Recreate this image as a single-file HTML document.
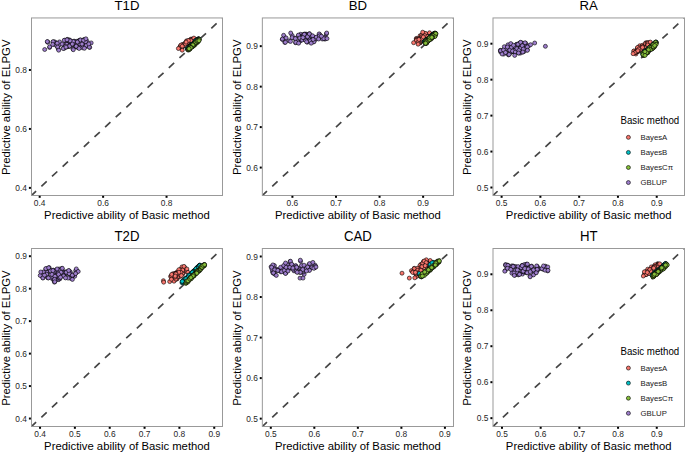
<!DOCTYPE html><html><head><meta charset="utf-8"><style>html,body{margin:0;padding:0;background:#fff;}svg{display:block;}text{font-family:"Liberation Sans",sans-serif;}circle{stroke:#000;stroke-width:0.6px;}.a{fill:#F8766D;}.b{fill:#00BFC4;}.c{fill:#86BF3A;}.d{fill:#9D7DCB;}</style></head><body>
<svg width="685" height="454" viewBox="0 0 685 454">
<rect x="0" y="0" width="685" height="454" fill="#fff"/>
<defs>
<clipPath id="cp00"><rect x="31.5" y="17.95" width="191.00" height="177.55"/></clipPath>
<clipPath id="cp01"><rect x="262.35" y="17.95" width="191.15" height="177.55"/></clipPath>
<clipPath id="cp02"><rect x="493.0" y="17.95" width="191.50" height="177.55"/></clipPath>
<clipPath id="cp10"><rect x="31.5" y="248.5" width="191.00" height="178.00"/></clipPath>
<clipPath id="cp11"><rect x="262.35" y="248.5" width="191.15" height="178.00"/></clipPath>
<clipPath id="cp12"><rect x="493.0" y="248.5" width="191.50" height="178.00"/></clipPath>
</defs>
<g clip-path="url(#cp00)">
<line x1="31.5" y1="195.5" x2="222.5" y2="17.95" stroke="#454545" stroke-width="1.7" stroke-dasharray="7.25 7.25" stroke-dashoffset="1.0"/>
<circle class="d" cx="87.0" cy="41.2" r="2"/>
<circle class="d" cx="49.6" cy="47.4" r="2"/>
<circle class="d" cx="67.5" cy="46.6" r="2"/>
<circle class="d" cx="68.5" cy="42.4" r="2"/>
<circle class="d" cx="66.1" cy="41.3" r="2"/>
<circle class="d" cx="55.7" cy="42.7" r="2"/>
<circle class="d" cx="79.5" cy="40.6" r="2"/>
<circle class="d" cx="83.4" cy="40.1" r="2"/>
<circle class="d" cx="82.3" cy="43.7" r="2"/>
<circle class="d" cx="75.4" cy="46.5" r="2"/>
<circle class="d" cx="67.5" cy="40.4" r="2"/>
<circle class="d" cx="68.6" cy="44.7" r="2"/>
<circle class="d" cx="64.7" cy="45.2" r="2"/>
<circle class="d" cx="47.5" cy="41.8" r="2"/>
<circle class="d" cx="53.8" cy="44.5" r="2"/>
<circle class="d" cx="77.9" cy="41.7" r="2"/>
<circle class="d" cx="79.2" cy="42.3" r="2"/>
<circle class="d" cx="85.5" cy="43.8" r="2"/>
<circle class="d" cx="68.6" cy="46.1" r="2"/>
<circle class="d" cx="80.7" cy="41.1" r="2"/>
<circle class="d" cx="67.6" cy="39.4" r="2"/>
<circle class="d" cx="76.0" cy="45.9" r="2"/>
<circle class="d" cx="83.8" cy="39.8" r="2"/>
<circle class="d" cx="84.1" cy="40.8" r="2"/>
<circle class="d" cx="79.8" cy="41.6" r="2"/>
<circle class="d" cx="68.8" cy="44.7" r="2"/>
<circle class="d" cx="54.5" cy="41.8" r="2"/>
<circle class="d" cx="80.2" cy="40.0" r="2"/>
<circle class="d" cx="65.2" cy="46.7" r="2"/>
<circle class="d" cx="69.7" cy="40.0" r="2"/>
<circle class="d" cx="77.9" cy="44.1" r="2"/>
<circle class="d" cx="66.8" cy="46.8" r="2"/>
<circle class="d" cx="89.7" cy="47.4" r="2"/>
<circle class="d" cx="72.2" cy="44.6" r="2"/>
<circle class="d" cx="85.0" cy="46.8" r="2"/>
<circle class="d" cx="56.7" cy="43.3" r="2"/>
<circle class="d" cx="56.7" cy="45.9" r="2"/>
<circle class="d" cx="74.2" cy="41.2" r="2"/>
<circle class="d" cx="83.7" cy="41.1" r="2"/>
<circle class="d" cx="74.5" cy="42.8" r="2"/>
<circle class="d" cx="76.5" cy="45.3" r="2"/>
<circle class="d" cx="77.7" cy="47.3" r="2"/>
<circle class="d" cx="66.8" cy="40.4" r="2"/>
<circle class="d" cx="78.5" cy="40.9" r="2"/>
<circle class="d" cx="63.7" cy="48.1" r="2"/>
<circle class="d" cx="53.0" cy="42.0" r="2"/>
<circle class="d" cx="59.5" cy="44.7" r="2"/>
<circle class="d" cx="77.3" cy="47.0" r="2"/>
<circle class="d" cx="69.7" cy="46.3" r="2"/>
<circle class="d" cx="79.8" cy="47.5" r="2"/>
<circle class="d" cx="76.5" cy="41.4" r="2"/>
<circle class="d" cx="77.5" cy="47.0" r="2"/>
<circle class="d" cx="81.6" cy="44.1" r="2"/>
<circle class="d" cx="47.8" cy="42.3" r="2"/>
<circle class="d" cx="87.2" cy="45.8" r="2"/>
<circle class="d" cx="82.3" cy="44.2" r="2"/>
<circle class="d" cx="66.8" cy="44.3" r="2"/>
<circle class="d" cx="79.6" cy="43.8" r="2"/>
<circle class="d" cx="84.4" cy="39.9" r="2"/>
<circle class="d" cx="77.9" cy="42.1" r="2"/>
<circle class="d" cx="73.6" cy="41.4" r="2"/>
<circle class="d" cx="58.2" cy="48.7" r="2"/>
<circle class="d" cx="64.5" cy="48.1" r="2"/>
<circle class="d" cx="73.0" cy="49.0" r="2"/>
<circle class="d" cx="66.9" cy="39.9" r="2"/>
<circle class="d" cx="59.5" cy="41.9" r="2"/>
<circle class="d" cx="85.6" cy="41.9" r="2"/>
<circle class="d" cx="69.5" cy="41.3" r="2"/>
<circle class="d" cx="82.8" cy="47.8" r="2"/>
<circle class="d" cx="64.9" cy="40.2" r="2"/>
<circle class="d" cx="44.7" cy="49.5" r="2"/>
<circle class="d" cx="47.3" cy="41.6" r="2"/>
<circle class="d" cx="49.7" cy="46.8" r="2"/>
<circle class="d" cx="53.1" cy="41.7" r="2"/>
<circle class="d" cx="52.7" cy="44.4" r="2"/>
<circle class="d" cx="57.2" cy="43.2" r="2"/>
<circle class="d" cx="57.7" cy="47.1" r="2"/>
<circle class="d" cx="58.7" cy="50.2" r="2"/>
<circle class="d" cx="62.1" cy="44.1" r="2"/>
<circle class="d" cx="64.2" cy="40.3" r="2"/>
<circle class="d" cx="65.2" cy="46.3" r="2"/>
<circle class="d" cx="63.3" cy="48.5" r="2"/>
<circle class="d" cx="69.1" cy="40.3" r="2"/>
<circle class="d" cx="69.1" cy="45.8" r="2"/>
<circle class="d" cx="73.3" cy="41.5" r="2"/>
<circle class="d" cx="77.4" cy="42.0" r="2"/>
<circle class="d" cx="80.5" cy="40.0" r="2"/>
<circle class="d" cx="83.5" cy="40.3" r="2"/>
<circle class="d" cx="85.9" cy="38.8" r="2"/>
<circle class="d" cx="86.4" cy="45.4" r="2"/>
<circle class="d" cx="82.0" cy="44.1" r="2"/>
<circle class="d" cx="76.2" cy="46.3" r="2"/>
<circle class="d" cx="73.3" cy="49.7" r="2"/>
<circle class="d" cx="79.1" cy="48.5" r="2"/>
<circle class="d" cx="69.6" cy="46.1" r="2"/>
<circle class="d" cx="70.1" cy="40.8" r="2"/>
<circle class="d" cx="91.2" cy="42.9" r="2"/>
<circle class="d" cx="89.3" cy="47.1" r="2"/>
<circle class="d" cx="88.8" cy="43.9" r="2"/>
<circle class="d" cx="84.4" cy="48.3" r="2"/>
<circle class="d" cx="72.3" cy="44.1" r="2"/>
<circle class="d" cx="67.0" cy="39.8" r="2"/>
<circle class="d" cx="66.0" cy="47.1" r="2"/>
<circle class="a" cx="184.7" cy="45.5" r="2"/>
<circle class="a" cx="181.6" cy="48.1" r="2"/>
<circle class="a" cx="186.8" cy="42.6" r="2"/>
<circle class="a" cx="186.7" cy="43.3" r="2"/>
<circle class="a" cx="180.3" cy="47.2" r="2"/>
<circle class="a" cx="181.3" cy="47.1" r="2"/>
<circle class="a" cx="185.7" cy="44.0" r="2"/>
<circle class="a" cx="182.6" cy="45.4" r="2"/>
<circle class="a" cx="188.9" cy="43.0" r="2"/>
<circle class="a" cx="184.9" cy="43.8" r="2"/>
<circle class="a" cx="193.8" cy="40.3" r="2"/>
<circle class="a" cx="184.1" cy="45.6" r="2"/>
<circle class="a" cx="182.2" cy="47.0" r="2"/>
<circle class="a" cx="190.9" cy="40.7" r="2"/>
<circle class="a" cx="181.6" cy="45.1" r="2"/>
<circle class="a" cx="184.4" cy="43.8" r="2"/>
<circle class="a" cx="187.3" cy="43.0" r="2"/>
<circle class="a" cx="182.8" cy="46.0" r="2"/>
<circle class="a" cx="188.4" cy="40.8" r="2"/>
<circle class="a" cx="187.8" cy="42.7" r="2"/>
<circle class="a" cx="185.6" cy="43.1" r="2"/>
<circle class="a" cx="190.1" cy="42.7" r="2"/>
<circle class="a" cx="182.5" cy="44.6" r="2"/>
<circle class="a" cx="191.1" cy="39.2" r="2"/>
<circle class="a" cx="189.1" cy="40.5" r="2"/>
<circle class="a" cx="185.5" cy="43.9" r="2"/>
<circle class="a" cx="186.0" cy="42.8" r="2"/>
<circle class="a" cx="180.0" cy="46.8" r="2"/>
<circle class="a" cx="186.6" cy="41.3" r="2"/>
<circle class="a" cx="191.0" cy="39.2" r="2"/>
<circle class="a" cx="188.6" cy="43.4" r="2"/>
<circle class="a" cx="186.5" cy="40.9" r="2"/>
<circle class="a" cx="192.6" cy="39.4" r="2"/>
<circle class="a" cx="186.1" cy="43.2" r="2"/>
<circle class="a" cx="188.9" cy="41.0" r="2"/>
<circle class="a" cx="189.5" cy="43.3" r="2"/>
<circle class="a" cx="183.7" cy="45.1" r="2"/>
<circle class="a" cx="185.0" cy="44.1" r="2"/>
<circle class="a" cx="185.9" cy="43.4" r="2"/>
<circle class="a" cx="182.3" cy="46.4" r="2"/>
<circle class="a" cx="190.1" cy="40.8" r="2"/>
<circle class="a" cx="181.7" cy="46.6" r="2"/>
<circle class="a" cx="191.9" cy="40.5" r="2"/>
<circle class="a" cx="180.3" cy="46.1" r="2"/>
<circle class="a" cx="191.7" cy="39.9" r="2"/>
<circle class="a" cx="191.0" cy="40.6" r="2"/>
<circle class="a" cx="185.0" cy="43.4" r="2"/>
<circle class="a" cx="185.8" cy="46.0" r="2"/>
<circle class="a" cx="181.0" cy="45.0" r="2"/>
<circle class="a" cx="182.3" cy="46.2" r="2"/>
<circle class="a" cx="186.7" cy="43.9" r="2"/>
<circle class="a" cx="187.7" cy="42.3" r="2"/>
<circle class="a" cx="185.5" cy="44.0" r="2"/>
<circle class="a" cx="188.4" cy="40.6" r="2"/>
<circle class="a" cx="186.1" cy="42.1" r="2"/>
<circle class="a" cx="178.4" cy="48.5" r="2"/>
<circle class="a" cx="182.2" cy="50.2" r="2"/>
<circle class="a" cx="193.9" cy="38.1" r="2"/>
<circle class="b" cx="187.4" cy="48.1" r="2"/>
<circle class="b" cx="197.6" cy="39.7" r="2"/>
<circle class="b" cx="191.5" cy="44.8" r="2"/>
<circle class="b" cx="194.5" cy="42.4" r="2"/>
<circle class="b" cx="187.9" cy="48.4" r="2"/>
<circle class="b" cx="189.0" cy="47.3" r="2"/>
<circle class="b" cx="191.0" cy="45.4" r="2"/>
<circle class="b" cx="188.8" cy="47.3" r="2"/>
<circle class="b" cx="188.2" cy="47.8" r="2"/>
<circle class="b" cx="197.3" cy="39.9" r="2"/>
<circle class="b" cx="194.3" cy="42.7" r="2"/>
<circle class="b" cx="191.2" cy="45.5" r="2"/>
<circle class="b" cx="191.5" cy="45.5" r="2"/>
<circle class="b" cx="198.9" cy="39.0" r="2"/>
<circle class="b" cx="192.4" cy="44.0" r="2"/>
<circle class="b" cx="188.2" cy="47.9" r="2"/>
<circle class="b" cx="191.0" cy="45.3" r="2"/>
<circle class="b" cx="189.3" cy="47.7" r="2"/>
<circle class="b" cx="187.5" cy="48.9" r="2"/>
<circle class="b" cx="188.6" cy="47.3" r="2"/>
<circle class="b" cx="193.6" cy="43.6" r="2"/>
<circle class="b" cx="198.5" cy="38.9" r="2"/>
<circle class="b" cx="197.0" cy="39.9" r="2"/>
<circle class="b" cx="191.1" cy="45.0" r="2"/>
<circle class="b" cx="189.0" cy="47.2" r="2"/>
<circle class="b" cx="195.9" cy="40.6" r="2"/>
<circle class="b" cx="190.9" cy="45.6" r="2"/>
<circle class="b" cx="198.9" cy="39.2" r="2"/>
<circle class="b" cx="197.1" cy="40.3" r="2"/>
<circle class="b" cx="195.3" cy="40.9" r="2"/>
<circle class="b" cx="189.5" cy="46.4" r="2"/>
<circle class="b" cx="187.3" cy="48.6" r="2"/>
<circle class="b" cx="187.3" cy="48.6" r="2"/>
<circle class="b" cx="195.3" cy="41.9" r="2"/>
<circle class="b" cx="198.7" cy="38.9" r="2"/>
<circle class="b" cx="198.1" cy="39.0" r="2"/>
<circle class="b" cx="189.8" cy="46.7" r="2"/>
<circle class="b" cx="189.4" cy="47.0" r="2"/>
<circle class="b" cx="197.8" cy="39.9" r="2"/>
<circle class="b" cx="196.5" cy="39.9" r="2"/>
<circle class="b" cx="196.4" cy="40.7" r="2"/>
<circle class="b" cx="187.8" cy="47.8" r="2"/>
<circle class="b" cx="195.8" cy="40.4" r="2"/>
<circle class="b" cx="195.7" cy="41.0" r="2"/>
<circle class="b" cx="196.2" cy="40.8" r="2"/>
<circle class="c" cx="192.0" cy="46.7" r="2"/>
<circle class="c" cx="193.0" cy="46.2" r="2"/>
<circle class="c" cx="189.6" cy="47.9" r="2"/>
<circle class="c" cx="189.7" cy="49.0" r="2"/>
<circle class="c" cx="197.8" cy="42.2" r="2"/>
<circle class="c" cx="189.9" cy="48.8" r="2"/>
<circle class="c" cx="191.7" cy="46.0" r="2"/>
<circle class="c" cx="187.9" cy="49.6" r="2"/>
<circle class="c" cx="198.9" cy="39.5" r="2"/>
<circle class="c" cx="198.4" cy="39.8" r="2"/>
<circle class="c" cx="193.3" cy="45.8" r="2"/>
<circle class="c" cx="189.8" cy="47.1" r="2"/>
<circle class="c" cx="190.7" cy="47.1" r="2"/>
<circle class="c" cx="194.9" cy="44.0" r="2"/>
<circle class="c" cx="190.7" cy="47.0" r="2"/>
<circle class="c" cx="198.5" cy="40.5" r="2"/>
<circle class="c" cx="191.5" cy="45.7" r="2"/>
<circle class="c" cx="198.5" cy="40.6" r="2"/>
<circle class="c" cx="193.1" cy="45.9" r="2"/>
<circle class="c" cx="193.8" cy="44.1" r="2"/>
<circle class="c" cx="194.3" cy="44.8" r="2"/>
<circle class="c" cx="190.0" cy="48.0" r="2"/>
<circle class="c" cx="187.9" cy="49.8" r="2"/>
<circle class="c" cx="193.1" cy="44.7" r="2"/>
<circle class="c" cx="196.0" cy="42.0" r="2"/>
<circle class="c" cx="193.8" cy="44.3" r="2"/>
<circle class="c" cx="194.3" cy="44.1" r="2"/>
<circle class="c" cx="194.2" cy="43.9" r="2"/>
<circle class="c" cx="190.6" cy="47.1" r="2"/>
<circle class="c" cx="194.3" cy="45.2" r="2"/>
<circle class="c" cx="194.4" cy="44.1" r="2"/>
<circle class="c" cx="194.6" cy="43.0" r="2"/>
<circle class="c" cx="195.9" cy="42.6" r="2"/>
<circle class="c" cx="192.7" cy="44.7" r="2"/>
<circle class="c" cx="198.7" cy="40.0" r="2"/>
<circle class="c" cx="196.5" cy="43.2" r="2"/>
<circle class="c" cx="190.3" cy="46.5" r="2"/>
<circle class="c" cx="194.9" cy="44.7" r="2"/>
<circle class="c" cx="189.2" cy="48.1" r="2"/>
<circle class="c" cx="189.1" cy="48.4" r="2"/>
<circle class="c" cx="190.7" cy="47.4" r="2"/>
<circle class="c" cx="188.4" cy="48.7" r="2"/>
<circle class="c" cx="197.8" cy="40.0" r="2"/>
<circle class="c" cx="189.5" cy="48.1" r="2"/>
<circle class="c" cx="189.0" cy="47.8" r="2"/>
<circle class="c" cx="198.4" cy="41.0" r="2"/>
<circle class="c" cx="198.9" cy="39.9" r="2"/>
<circle class="c" cx="197.6" cy="41.3" r="2"/>
<circle class="c" cx="189.3" cy="47.7" r="2"/>
<circle class="c" cx="191.9" cy="46.5" r="2"/>
<circle class="c" cx="189.9" cy="47.5" r="2"/>
<circle class="c" cx="188.5" cy="50.1" r="2"/>
<circle class="c" cx="194.2" cy="44.0" r="2"/>
<circle class="c" cx="191.7" cy="46.4" r="2"/>
<circle class="c" cx="195.0" cy="43.2" r="2"/>
<circle class="c" cx="199.3" cy="39.6" r="2"/>
<circle class="c" cx="197.2" cy="41.9" r="2"/>
<circle class="c" cx="190.9" cy="47.0" r="2"/>
<circle class="c" cx="188.3" cy="49.4" r="2"/>
<circle class="c" cx="189.1" cy="48.2" r="2"/>
<circle class="c" cx="193.3" cy="46.0" r="2"/>
<circle class="c" cx="190.5" cy="46.8" r="2"/>
<circle class="c" cx="189.9" cy="48.7" r="2"/>
<circle class="c" cx="195.8" cy="42.3" r="2"/>
<circle class="c" cx="189.3" cy="49.4" r="2"/>
<circle class="c" cx="193.0" cy="45.6" r="2"/>
<circle class="c" cx="189.1" cy="49.5" r="2"/>
<circle class="c" cx="197.0" cy="41.3" r="2"/>
<circle class="c" cx="188.9" cy="49.0" r="2"/>
<circle class="c" cx="197.8" cy="40.8" r="2"/>
<circle class="c" cx="192.9" cy="44.9" r="2"/>
<circle class="c" cx="199.0" cy="40.7" r="2"/>
<circle class="c" cx="191.2" cy="47.4" r="2"/>
<circle class="c" cx="190.9" cy="47.7" r="2"/>
<circle class="c" cx="189.1" cy="48.7" r="2"/>
</g>
<rect x="31.5" y="17.95" width="191.00" height="177.55" fill="none" stroke="#999" stroke-width="1"/>
<rect x="38.68" y="195.80" width="2" height="2" fill="#000"/>
<rect x="28.90" y="186.89" width="2" height="2" fill="#000"/>
<text transform="translate(39.68,206.45) scale(1,1.04)" font-size="8.4" fill="#262626" text-anchor="middle">0.4</text>
<text transform="translate(26.95,191.09) scale(1,1.04)" font-size="8.4" fill="#262626" text-anchor="end">0.4</text>
<rect x="102.12" y="195.80" width="2" height="2" fill="#000"/>
<rect x="28.90" y="127.93" width="2" height="2" fill="#000"/>
<text transform="translate(103.12,206.45) scale(1,1.04)" font-size="8.4" fill="#262626" text-anchor="middle">0.6</text>
<text transform="translate(26.95,132.13) scale(1,1.04)" font-size="8.4" fill="#262626" text-anchor="end">0.6</text>
<rect x="165.55" y="195.80" width="2" height="2" fill="#000"/>
<rect x="28.90" y="68.96" width="2" height="2" fill="#000"/>
<text transform="translate(166.55,206.45) scale(1,1.04)" font-size="8.4" fill="#262626" text-anchor="middle">0.8</text>
<text transform="translate(26.95,73.16) scale(1,1.04)" font-size="8.4" fill="#262626" text-anchor="end">0.8</text>
<text transform="translate(127.00,9.85) scale(1,1.0)" font-size="13.2" fill="#000" text-anchor="middle">T1D</text>
<text transform="translate(127.00,219.05) scale(1,1.03)" font-size="11.3" fill="#000" text-anchor="middle">Predictive ability of Basic method</text>
<text transform="translate(9.80,107.32) rotate(-90) scale(1,1.03)" font-size="11.35" fill="#000" text-anchor="middle">Predictive ability of ELPGV</text>
<g clip-path="url(#cp01)">
<line x1="262.35" y1="195.5" x2="453.5" y2="17.95" stroke="#454545" stroke-width="1.7" stroke-dasharray="7.25 7.25" stroke-dashoffset="1.0"/>
<circle class="d" cx="301.7" cy="38.6" r="2"/>
<circle class="d" cx="303.4" cy="35.1" r="2"/>
<circle class="d" cx="315.7" cy="37.9" r="2"/>
<circle class="d" cx="289.1" cy="40.8" r="2"/>
<circle class="d" cx="305.0" cy="34.8" r="2"/>
<circle class="d" cx="311.2" cy="36.9" r="2"/>
<circle class="d" cx="295.5" cy="42.7" r="2"/>
<circle class="d" cx="303.0" cy="38.7" r="2"/>
<circle class="d" cx="324.0" cy="38.8" r="2"/>
<circle class="d" cx="307.1" cy="38.3" r="2"/>
<circle class="d" cx="304.6" cy="39.0" r="2"/>
<circle class="d" cx="299.6" cy="36.4" r="2"/>
<circle class="d" cx="305.7" cy="35.0" r="2"/>
<circle class="d" cx="295.1" cy="38.2" r="2"/>
<circle class="d" cx="324.3" cy="38.3" r="2"/>
<circle class="d" cx="319.8" cy="35.4" r="2"/>
<circle class="d" cx="285.4" cy="38.0" r="2"/>
<circle class="d" cx="326.3" cy="34.0" r="2"/>
<circle class="d" cx="306.4" cy="39.5" r="2"/>
<circle class="d" cx="306.6" cy="34.2" r="2"/>
<circle class="d" cx="309.4" cy="33.7" r="2"/>
<circle class="d" cx="305.6" cy="36.8" r="2"/>
<circle class="d" cx="314.4" cy="40.5" r="2"/>
<circle class="d" cx="314.4" cy="38.8" r="2"/>
<circle class="d" cx="305.3" cy="34.1" r="2"/>
<circle class="d" cx="319.5" cy="34.4" r="2"/>
<circle class="d" cx="300.6" cy="34.3" r="2"/>
<circle class="d" cx="294.2" cy="38.3" r="2"/>
<circle class="d" cx="306.2" cy="37.6" r="2"/>
<circle class="d" cx="299.1" cy="35.9" r="2"/>
<circle class="d" cx="325.2" cy="37.2" r="2"/>
<circle class="d" cx="284.8" cy="42.4" r="2"/>
<circle class="d" cx="312.2" cy="36.2" r="2"/>
<circle class="d" cx="325.1" cy="39.1" r="2"/>
<circle class="d" cx="300.1" cy="41.0" r="2"/>
<circle class="d" cx="310.2" cy="39.1" r="2"/>
<circle class="d" cx="316.4" cy="37.7" r="2"/>
<circle class="d" cx="305.8" cy="35.8" r="2"/>
<circle class="d" cx="298.8" cy="35.5" r="2"/>
<circle class="d" cx="309.9" cy="37.4" r="2"/>
<circle class="d" cx="303.8" cy="34.3" r="2"/>
<circle class="d" cx="307.3" cy="42.2" r="2"/>
<circle class="d" cx="307.1" cy="35.7" r="2"/>
<circle class="d" cx="304.7" cy="34.7" r="2"/>
<circle class="d" cx="310.4" cy="38.0" r="2"/>
<circle class="d" cx="306.2" cy="35.7" r="2"/>
<circle class="d" cx="302.8" cy="36.2" r="2"/>
<circle class="d" cx="282.3" cy="39.4" r="2"/>
<circle class="d" cx="309.0" cy="40.9" r="2"/>
<circle class="d" cx="303.6" cy="37.0" r="2"/>
<circle class="d" cx="304.5" cy="34.3" r="2"/>
<circle class="d" cx="321.3" cy="36.6" r="2"/>
<circle class="d" cx="303.3" cy="36.2" r="2"/>
<circle class="d" cx="297.9" cy="41.8" r="2"/>
<circle class="d" cx="313.3" cy="41.8" r="2"/>
<circle class="d" cx="319.0" cy="35.9" r="2"/>
<circle class="d" cx="309.8" cy="39.1" r="2"/>
<circle class="d" cx="324.7" cy="38.1" r="2"/>
<circle class="d" cx="302.1" cy="39.5" r="2"/>
<circle class="d" cx="303.6" cy="38.1" r="2"/>
<circle class="d" cx="321.6" cy="37.4" r="2"/>
<circle class="d" cx="312.3" cy="39.0" r="2"/>
<circle class="d" cx="305.8" cy="35.3" r="2"/>
<circle class="d" cx="303.7" cy="39.1" r="2"/>
<circle class="d" cx="300.7" cy="37.7" r="2"/>
<circle class="d" cx="311.3" cy="40.7" r="2"/>
<circle class="d" cx="307.2" cy="36.7" r="2"/>
<circle class="d" cx="301.5" cy="39.8" r="2"/>
<circle class="d" cx="292.1" cy="35.4" r="2"/>
<circle class="d" cx="315.8" cy="38.9" r="2"/>
<circle class="d" cx="283.6" cy="35.3" r="2"/>
<circle class="d" cx="282.4" cy="39.0" r="2"/>
<circle class="d" cx="286.1" cy="37.9" r="2"/>
<circle class="d" cx="285.4" cy="42.3" r="2"/>
<circle class="d" cx="290.7" cy="33.0" r="2"/>
<circle class="d" cx="292.1" cy="37.6" r="2"/>
<circle class="d" cx="290.5" cy="41.4" r="2"/>
<circle class="d" cx="295.4" cy="38.6" r="2"/>
<circle class="d" cx="295.8" cy="42.3" r="2"/>
<circle class="d" cx="298.4" cy="35.1" r="2"/>
<circle class="d" cx="298.6" cy="43.2" r="2"/>
<circle class="d" cx="299.8" cy="38.1" r="2"/>
<circle class="d" cx="302.1" cy="40.0" r="2"/>
<circle class="d" cx="304.6" cy="34.4" r="2"/>
<circle class="d" cx="305.3" cy="40.0" r="2"/>
<circle class="d" cx="303.9" cy="37.6" r="2"/>
<circle class="d" cx="304.3" cy="34.4" r="2"/>
<circle class="d" cx="307.5" cy="36.7" r="2"/>
<circle class="d" cx="309.4" cy="33.9" r="2"/>
<circle class="d" cx="312.6" cy="35.8" r="2"/>
<circle class="d" cx="314.0" cy="41.8" r="2"/>
<circle class="d" cx="310.3" cy="40.9" r="2"/>
<circle class="d" cx="306.6" cy="41.8" r="2"/>
<circle class="d" cx="302.9" cy="37.6" r="2"/>
<circle class="d" cx="316.3" cy="37.2" r="2"/>
<circle class="d" cx="319.1" cy="33.9" r="2"/>
<circle class="d" cx="319.6" cy="35.8" r="2"/>
<circle class="d" cx="318.6" cy="39.0" r="2"/>
<circle class="d" cx="322.3" cy="39.0" r="2"/>
<circle class="d" cx="323.7" cy="38.6" r="2"/>
<circle class="d" cx="327.0" cy="38.6" r="2"/>
<circle class="d" cx="326.7" cy="33.0" r="2"/>
<circle class="d" cx="321.4" cy="36.2" r="2"/>
<circle class="d" cx="313.1" cy="39.5" r="2"/>
<circle class="d" cx="311.2" cy="43.2" r="2"/>
<circle class="a" cx="422.1" cy="38.3" r="2"/>
<circle class="a" cx="418.1" cy="40.2" r="2"/>
<circle class="a" cx="426.9" cy="36.6" r="2"/>
<circle class="a" cx="416.3" cy="38.4" r="2"/>
<circle class="a" cx="426.3" cy="34.9" r="2"/>
<circle class="a" cx="420.5" cy="42.3" r="2"/>
<circle class="a" cx="427.9" cy="36.9" r="2"/>
<circle class="a" cx="421.4" cy="39.8" r="2"/>
<circle class="a" cx="424.3" cy="33.4" r="2"/>
<circle class="a" cx="417.3" cy="38.7" r="2"/>
<circle class="a" cx="424.6" cy="36.2" r="2"/>
<circle class="a" cx="426.0" cy="36.9" r="2"/>
<circle class="a" cx="425.1" cy="36.1" r="2"/>
<circle class="a" cx="421.4" cy="39.5" r="2"/>
<circle class="a" cx="421.6" cy="37.4" r="2"/>
<circle class="a" cx="419.7" cy="40.2" r="2"/>
<circle class="a" cx="424.1" cy="36.7" r="2"/>
<circle class="a" cx="422.2" cy="37.3" r="2"/>
<circle class="a" cx="426.0" cy="38.6" r="2"/>
<circle class="a" cx="418.5" cy="41.3" r="2"/>
<circle class="a" cx="421.4" cy="35.6" r="2"/>
<circle class="a" cx="419.5" cy="38.8" r="2"/>
<circle class="a" cx="420.1" cy="37.4" r="2"/>
<circle class="a" cx="422.8" cy="36.2" r="2"/>
<circle class="a" cx="421.1" cy="38.1" r="2"/>
<circle class="a" cx="423.0" cy="37.3" r="2"/>
<circle class="a" cx="421.8" cy="38.3" r="2"/>
<circle class="a" cx="426.0" cy="38.2" r="2"/>
<circle class="a" cx="421.8" cy="38.9" r="2"/>
<circle class="a" cx="419.0" cy="42.1" r="2"/>
<circle class="a" cx="417.8" cy="40.1" r="2"/>
<circle class="a" cx="421.4" cy="38.6" r="2"/>
<circle class="a" cx="423.2" cy="39.7" r="2"/>
<circle class="a" cx="418.1" cy="41.4" r="2"/>
<circle class="a" cx="424.2" cy="36.6" r="2"/>
<circle class="a" cx="416.4" cy="39.6" r="2"/>
<circle class="a" cx="420.1" cy="35.7" r="2"/>
<circle class="a" cx="419.9" cy="42.7" r="2"/>
<circle class="a" cx="426.7" cy="37.6" r="2"/>
<circle class="a" cx="424.7" cy="35.7" r="2"/>
<circle class="a" cx="419.9" cy="41.6" r="2"/>
<circle class="a" cx="426.0" cy="34.6" r="2"/>
<circle class="a" cx="426.6" cy="36.2" r="2"/>
<circle class="a" cx="427.3" cy="36.9" r="2"/>
<circle class="a" cx="416.7" cy="39.8" r="2"/>
<circle class="a" cx="419.8" cy="42.1" r="2"/>
<circle class="a" cx="425.2" cy="34.9" r="2"/>
<circle class="a" cx="420.1" cy="42.8" r="2"/>
<circle class="a" cx="422.3" cy="38.8" r="2"/>
<circle class="a" cx="419.2" cy="39.2" r="2"/>
<circle class="a" cx="421.7" cy="37.8" r="2"/>
<circle class="a" cx="419.0" cy="40.5" r="2"/>
<circle class="a" cx="419.9" cy="42.2" r="2"/>
<circle class="a" cx="424.9" cy="34.5" r="2"/>
<circle class="a" cx="418.7" cy="40.5" r="2"/>
<circle class="a" cx="421.6" cy="37.2" r="2"/>
<circle class="a" cx="421.8" cy="35.4" r="2"/>
<circle class="a" cx="423.8" cy="39.6" r="2"/>
<circle class="a" cx="422.8" cy="37.9" r="2"/>
<circle class="a" cx="426.1" cy="34.1" r="2"/>
<circle class="a" cx="421.6" cy="35.3" r="2"/>
<circle class="a" cx="420.6" cy="41.1" r="2"/>
<circle class="a" cx="425.6" cy="33.5" r="2"/>
<circle class="a" cx="423.8" cy="35.6" r="2"/>
<circle class="a" cx="421.9" cy="39.3" r="2"/>
<circle class="a" cx="418.9" cy="43.1" r="2"/>
<circle class="a" cx="424.8" cy="35.7" r="2"/>
<circle class="a" cx="427.7" cy="36.5" r="2"/>
<circle class="a" cx="422.1" cy="36.8" r="2"/>
<circle class="a" cx="416.3" cy="40.5" r="2"/>
<circle class="a" cx="418.1" cy="42.3" r="2"/>
<circle class="a" cx="422.2" cy="39.9" r="2"/>
<circle class="a" cx="422.3" cy="38.5" r="2"/>
<circle class="a" cx="418.9" cy="39.5" r="2"/>
<circle class="a" cx="423.3" cy="37.0" r="2"/>
<circle class="a" cx="413.6" cy="42.7" r="2"/>
<circle class="a" cx="418.1" cy="44.2" r="2"/>
<circle class="a" cx="422.7" cy="32.2" r="2"/>
<circle class="a" cx="429.5" cy="32.8" r="2"/>
<circle class="b" cx="428.2" cy="38.8" r="2"/>
<circle class="b" cx="425.2" cy="41.0" r="2"/>
<circle class="b" cx="430.9" cy="36.7" r="2"/>
<circle class="b" cx="430.9" cy="36.7" r="2"/>
<circle class="b" cx="429.8" cy="37.9" r="2"/>
<circle class="b" cx="425.8" cy="41.0" r="2"/>
<circle class="b" cx="425.8" cy="40.6" r="2"/>
<circle class="b" cx="425.0" cy="40.9" r="2"/>
<circle class="b" cx="432.8" cy="34.4" r="2"/>
<circle class="b" cx="428.7" cy="38.3" r="2"/>
<circle class="b" cx="431.5" cy="36.1" r="2"/>
<circle class="b" cx="430.4" cy="36.6" r="2"/>
<circle class="b" cx="429.4" cy="38.2" r="2"/>
<circle class="b" cx="434.9" cy="33.3" r="2"/>
<circle class="b" cx="434.3" cy="33.4" r="2"/>
<circle class="b" cx="424.4" cy="41.5" r="2"/>
<circle class="b" cx="426.8" cy="39.8" r="2"/>
<circle class="b" cx="424.8" cy="41.6" r="2"/>
<circle class="b" cx="430.4" cy="36.9" r="2"/>
<circle class="b" cx="435.0" cy="33.4" r="2"/>
<circle class="b" cx="431.2" cy="36.5" r="2"/>
<circle class="b" cx="429.7" cy="37.1" r="2"/>
<circle class="b" cx="425.8" cy="40.1" r="2"/>
<circle class="b" cx="427.6" cy="39.2" r="2"/>
<circle class="b" cx="434.4" cy="33.8" r="2"/>
<circle class="b" cx="433.1" cy="34.7" r="2"/>
<circle class="b" cx="433.8" cy="34.1" r="2"/>
<circle class="b" cx="432.4" cy="34.7" r="2"/>
<circle class="b" cx="429.4" cy="37.9" r="2"/>
<circle class="b" cx="426.8" cy="40.1" r="2"/>
<circle class="b" cx="424.6" cy="41.8" r="2"/>
<circle class="b" cx="428.0" cy="38.9" r="2"/>
<circle class="b" cx="433.5" cy="33.8" r="2"/>
<circle class="b" cx="432.3" cy="35.4" r="2"/>
<circle class="b" cx="429.4" cy="38.3" r="2"/>
<circle class="b" cx="433.0" cy="34.5" r="2"/>
<circle class="b" cx="431.5" cy="36.0" r="2"/>
<circle class="b" cx="435.3" cy="33.1" r="2"/>
<circle class="b" cx="427.1" cy="39.7" r="2"/>
<circle class="b" cx="435.3" cy="33.6" r="2"/>
<circle class="b" cx="432.5" cy="34.9" r="2"/>
<circle class="b" cx="428.2" cy="39.4" r="2"/>
<circle class="b" cx="427.1" cy="40.1" r="2"/>
<circle class="b" cx="431.9" cy="35.4" r="2"/>
<circle class="b" cx="432.0" cy="36.1" r="2"/>
<circle class="c" cx="434.4" cy="35.0" r="2"/>
<circle class="c" cx="433.1" cy="36.8" r="2"/>
<circle class="c" cx="432.8" cy="35.7" r="2"/>
<circle class="c" cx="431.3" cy="37.5" r="2"/>
<circle class="c" cx="432.2" cy="37.5" r="2"/>
<circle class="c" cx="425.9" cy="42.5" r="2"/>
<circle class="c" cx="425.0" cy="42.6" r="2"/>
<circle class="c" cx="426.4" cy="42.4" r="2"/>
<circle class="c" cx="426.3" cy="41.5" r="2"/>
<circle class="c" cx="425.8" cy="43.5" r="2"/>
<circle class="c" cx="432.3" cy="37.3" r="2"/>
<circle class="c" cx="432.8" cy="36.4" r="2"/>
<circle class="c" cx="431.4" cy="37.3" r="2"/>
<circle class="c" cx="429.3" cy="40.0" r="2"/>
<circle class="c" cx="434.3" cy="33.7" r="2"/>
<circle class="c" cx="426.2" cy="43.2" r="2"/>
<circle class="c" cx="434.9" cy="33.2" r="2"/>
<circle class="c" cx="426.1" cy="42.1" r="2"/>
<circle class="c" cx="425.4" cy="42.9" r="2"/>
<circle class="c" cx="434.8" cy="35.3" r="2"/>
<circle class="c" cx="433.7" cy="34.5" r="2"/>
<circle class="c" cx="432.0" cy="37.0" r="2"/>
<circle class="c" cx="426.1" cy="42.3" r="2"/>
<circle class="c" cx="433.6" cy="36.0" r="2"/>
<circle class="c" cx="430.0" cy="39.5" r="2"/>
<circle class="c" cx="425.0" cy="42.8" r="2"/>
<circle class="c" cx="433.4" cy="36.7" r="2"/>
<circle class="c" cx="428.5" cy="38.9" r="2"/>
<circle class="c" cx="434.5" cy="34.9" r="2"/>
<circle class="c" cx="429.5" cy="39.0" r="2"/>
<circle class="c" cx="429.9" cy="39.0" r="2"/>
<circle class="c" cx="432.5" cy="35.9" r="2"/>
<circle class="c" cx="431.2" cy="38.2" r="2"/>
<circle class="c" cx="426.7" cy="43.2" r="2"/>
<circle class="c" cx="434.2" cy="35.3" r="2"/>
<circle class="c" cx="427.1" cy="41.1" r="2"/>
<circle class="c" cx="433.6" cy="35.9" r="2"/>
<circle class="c" cx="430.4" cy="38.4" r="2"/>
<circle class="c" cx="430.5" cy="38.5" r="2"/>
<circle class="c" cx="430.2" cy="38.0" r="2"/>
<circle class="c" cx="429.0" cy="39.9" r="2"/>
<circle class="c" cx="435.4" cy="33.8" r="2"/>
<circle class="c" cx="428.2" cy="40.5" r="2"/>
<circle class="c" cx="431.2" cy="39.1" r="2"/>
<circle class="c" cx="425.9" cy="41.8" r="2"/>
<circle class="c" cx="433.7" cy="35.4" r="2"/>
<circle class="c" cx="433.0" cy="36.6" r="2"/>
<circle class="c" cx="428.3" cy="38.9" r="2"/>
<circle class="c" cx="428.7" cy="38.3" r="2"/>
<circle class="c" cx="426.4" cy="42.9" r="2"/>
<circle class="c" cx="435.3" cy="35.0" r="2"/>
<circle class="c" cx="427.9" cy="40.6" r="2"/>
<circle class="c" cx="434.7" cy="34.0" r="2"/>
<circle class="c" cx="435.0" cy="34.7" r="2"/>
<circle class="c" cx="427.0" cy="40.2" r="2"/>
<circle class="c" cx="433.6" cy="36.1" r="2"/>
<circle class="c" cx="433.2" cy="35.6" r="2"/>
<circle class="c" cx="428.2" cy="39.5" r="2"/>
<circle class="c" cx="426.9" cy="42.0" r="2"/>
<circle class="c" cx="432.8" cy="35.4" r="2"/>
<circle class="c" cx="426.0" cy="40.5" r="2"/>
<circle class="c" cx="431.7" cy="37.9" r="2"/>
<circle class="c" cx="427.8" cy="41.0" r="2"/>
<circle class="c" cx="426.8" cy="40.9" r="2"/>
<circle class="c" cx="435.2" cy="35.9" r="2"/>
<circle class="c" cx="426.8" cy="41.8" r="2"/>
<circle class="c" cx="428.8" cy="40.3" r="2"/>
<circle class="c" cx="431.0" cy="38.3" r="2"/>
<circle class="c" cx="427.3" cy="41.6" r="2"/>
<circle class="c" cx="436.0" cy="33.8" r="2"/>
<circle class="c" cx="435.7" cy="33.7" r="2"/>
<circle class="c" cx="434.8" cy="36.6" r="2"/>
<circle class="c" cx="433.0" cy="35.8" r="2"/>
<circle class="c" cx="432.3" cy="37.1" r="2"/>
<circle class="c" cx="426.1" cy="42.1" r="2"/>
<circle class="c" cx="425.6" cy="43.2" r="2"/>
<circle class="c" cx="429.6" cy="39.5" r="2"/>
<circle class="c" cx="429.9" cy="37.5" r="2"/>
<circle class="c" cx="431.8" cy="36.8" r="2"/>
<circle class="c" cx="431.8" cy="37.4" r="2"/>
</g>
<rect x="262.35" y="17.95" width="191.15" height="177.55" fill="none" stroke="#999" stroke-width="1"/>
<rect x="291.41" y="195.80" width="2" height="2" fill="#000"/>
<rect x="259.75" y="166.57" width="2" height="2" fill="#000"/>
<text transform="translate(292.41,206.45) scale(1,1.04)" font-size="8.4" fill="#262626" text-anchor="middle">0.6</text>
<text transform="translate(257.80,170.77) scale(1,1.04)" font-size="8.4" fill="#262626" text-anchor="end">0.6</text>
<rect x="334.99" y="195.80" width="2" height="2" fill="#000"/>
<rect x="259.75" y="126.10" width="2" height="2" fill="#000"/>
<text transform="translate(335.99,206.45) scale(1,1.04)" font-size="8.4" fill="#262626" text-anchor="middle">0.7</text>
<text transform="translate(257.80,130.30) scale(1,1.04)" font-size="8.4" fill="#262626" text-anchor="end">0.7</text>
<rect x="378.56" y="195.80" width="2" height="2" fill="#000"/>
<rect x="259.75" y="85.63" width="2" height="2" fill="#000"/>
<text transform="translate(379.56,206.45) scale(1,1.04)" font-size="8.4" fill="#262626" text-anchor="middle">0.8</text>
<text transform="translate(257.80,89.83) scale(1,1.04)" font-size="8.4" fill="#262626" text-anchor="end">0.8</text>
<rect x="422.13" y="195.80" width="2" height="2" fill="#000"/>
<rect x="259.75" y="45.16" width="2" height="2" fill="#000"/>
<text transform="translate(423.13,206.45) scale(1,1.04)" font-size="8.4" fill="#262626" text-anchor="middle">0.9</text>
<text transform="translate(257.80,49.36) scale(1,1.04)" font-size="8.4" fill="#262626" text-anchor="end">0.9</text>
<text transform="translate(357.93,9.85) scale(1,1.0)" font-size="13.2" fill="#000" text-anchor="middle">BD</text>
<text transform="translate(357.93,219.05) scale(1,1.03)" font-size="11.3" fill="#000" text-anchor="middle">Predictive ability of Basic method</text>
<text transform="translate(240.65,107.32) rotate(-90) scale(1,1.03)" font-size="11.35" fill="#000" text-anchor="middle">Predictive ability of ELPGV</text>
<g clip-path="url(#cp02)">
<line x1="493.0" y1="195.5" x2="684.5" y2="17.95" stroke="#454545" stroke-width="1.7" stroke-dasharray="7.25 7.25" stroke-dashoffset="1.0"/>
<circle class="d" cx="514.2" cy="49.0" r="2"/>
<circle class="d" cx="522.4" cy="48.9" r="2"/>
<circle class="d" cx="506.6" cy="47.1" r="2"/>
<circle class="d" cx="522.8" cy="52.0" r="2"/>
<circle class="d" cx="520.7" cy="49.7" r="2"/>
<circle class="d" cx="518.5" cy="45.3" r="2"/>
<circle class="d" cx="508.6" cy="48.5" r="2"/>
<circle class="d" cx="520.6" cy="44.3" r="2"/>
<circle class="d" cx="521.8" cy="45.2" r="2"/>
<circle class="d" cx="512.9" cy="51.4" r="2"/>
<circle class="d" cx="520.0" cy="51.2" r="2"/>
<circle class="d" cx="500.6" cy="52.0" r="2"/>
<circle class="d" cx="526.9" cy="47.1" r="2"/>
<circle class="d" cx="511.9" cy="51.6" r="2"/>
<circle class="d" cx="521.5" cy="43.7" r="2"/>
<circle class="d" cx="517.3" cy="48.3" r="2"/>
<circle class="d" cx="522.7" cy="49.0" r="2"/>
<circle class="d" cx="526.1" cy="49.5" r="2"/>
<circle class="d" cx="509.5" cy="49.8" r="2"/>
<circle class="d" cx="506.6" cy="53.1" r="2"/>
<circle class="d" cx="521.5" cy="43.0" r="2"/>
<circle class="d" cx="521.8" cy="46.3" r="2"/>
<circle class="d" cx="519.0" cy="52.5" r="2"/>
<circle class="d" cx="525.6" cy="43.2" r="2"/>
<circle class="d" cx="503.7" cy="54.1" r="2"/>
<circle class="d" cx="500.4" cy="50.3" r="2"/>
<circle class="d" cx="516.3" cy="48.4" r="2"/>
<circle class="d" cx="517.0" cy="51.9" r="2"/>
<circle class="d" cx="526.0" cy="46.2" r="2"/>
<circle class="d" cx="517.9" cy="44.6" r="2"/>
<circle class="d" cx="512.8" cy="51.2" r="2"/>
<circle class="d" cx="522.8" cy="43.2" r="2"/>
<circle class="d" cx="508.0" cy="49.3" r="2"/>
<circle class="d" cx="519.7" cy="51.2" r="2"/>
<circle class="d" cx="516.5" cy="44.4" r="2"/>
<circle class="d" cx="510.7" cy="50.6" r="2"/>
<circle class="d" cx="510.9" cy="47.7" r="2"/>
<circle class="d" cx="527.3" cy="49.8" r="2"/>
<circle class="d" cx="513.1" cy="50.8" r="2"/>
<circle class="d" cx="518.1" cy="49.4" r="2"/>
<circle class="d" cx="519.6" cy="43.1" r="2"/>
<circle class="d" cx="508.5" cy="54.9" r="2"/>
<circle class="d" cx="526.4" cy="49.8" r="2"/>
<circle class="d" cx="521.2" cy="43.9" r="2"/>
<circle class="d" cx="520.1" cy="50.8" r="2"/>
<circle class="d" cx="508.0" cy="44.8" r="2"/>
<circle class="d" cx="509.6" cy="53.6" r="2"/>
<circle class="d" cx="519.2" cy="49.5" r="2"/>
<circle class="d" cx="518.4" cy="44.5" r="2"/>
<circle class="d" cx="516.5" cy="44.5" r="2"/>
<circle class="d" cx="515.5" cy="47.1" r="2"/>
<circle class="d" cx="522.4" cy="48.3" r="2"/>
<circle class="d" cx="515.8" cy="51.8" r="2"/>
<circle class="d" cx="513.5" cy="51.1" r="2"/>
<circle class="d" cx="519.7" cy="52.5" r="2"/>
<circle class="d" cx="521.2" cy="45.4" r="2"/>
<circle class="d" cx="521.4" cy="43.6" r="2"/>
<circle class="d" cx="521.1" cy="46.1" r="2"/>
<circle class="d" cx="518.6" cy="50.4" r="2"/>
<circle class="d" cx="516.9" cy="51.4" r="2"/>
<circle class="d" cx="510.4" cy="51.1" r="2"/>
<circle class="d" cx="517.9" cy="46.3" r="2"/>
<circle class="d" cx="518.6" cy="51.5" r="2"/>
<circle class="d" cx="525.9" cy="47.7" r="2"/>
<circle class="d" cx="528.8" cy="45.7" r="2"/>
<circle class="d" cx="519.1" cy="45.2" r="2"/>
<circle class="d" cx="517.5" cy="45.3" r="2"/>
<circle class="d" cx="500.9" cy="50.7" r="2"/>
<circle class="d" cx="524.0" cy="51.5" r="2"/>
<circle class="d" cx="511.4" cy="47.6" r="2"/>
<circle class="d" cx="520.4" cy="53.1" r="2"/>
<circle class="d" cx="514.0" cy="50.4" r="2"/>
<circle class="d" cx="518.6" cy="44.0" r="2"/>
<circle class="d" cx="506.1" cy="48.3" r="2"/>
<circle class="d" cx="522.4" cy="47.8" r="2"/>
<circle class="d" cx="504.3" cy="46.7" r="2"/>
<circle class="d" cx="500.6" cy="50.8" r="2"/>
<circle class="d" cx="503.5" cy="50.1" r="2"/>
<circle class="d" cx="502.1" cy="54.0" r="2"/>
<circle class="d" cx="505.5" cy="52.5" r="2"/>
<circle class="d" cx="507.4" cy="47.0" r="2"/>
<circle class="d" cx="509.1" cy="54.5" r="2"/>
<circle class="d" cx="509.8" cy="50.1" r="2"/>
<circle class="d" cx="511.5" cy="47.2" r="2"/>
<circle class="d" cx="510.8" cy="43.6" r="2"/>
<circle class="d" cx="513.5" cy="45.3" r="2"/>
<circle class="d" cx="512.5" cy="51.1" r="2"/>
<circle class="d" cx="515.4" cy="52.0" r="2"/>
<circle class="d" cx="514.7" cy="55.4" r="2"/>
<circle class="d" cx="516.9" cy="48.7" r="2"/>
<circle class="d" cx="517.8" cy="44.3" r="2"/>
<circle class="d" cx="520.7" cy="42.8" r="2"/>
<circle class="d" cx="520.7" cy="48.2" r="2"/>
<circle class="d" cx="518.8" cy="53.0" r="2"/>
<circle class="d" cx="518.0" cy="44.2" r="2"/>
<circle class="d" cx="520.6" cy="42.3" r="2"/>
<circle class="d" cx="525.0" cy="42.8" r="2"/>
<circle class="d" cx="522.3" cy="45.7" r="2"/>
<circle class="d" cx="527.4" cy="46.9" r="2"/>
<circle class="d" cx="530.6" cy="44.7" r="2"/>
<circle class="d" cx="534.7" cy="43.0" r="2"/>
<circle class="d" cx="527.4" cy="50.3" r="2"/>
<circle class="d" cx="523.3" cy="49.1" r="2"/>
<circle class="d" cx="522.8" cy="52.0" r="2"/>
<circle class="d" cx="518.9" cy="50.5" r="2"/>
<circle class="d" cx="518.5" cy="53.0" r="2"/>
<circle class="d" cx="545.4" cy="46.3" r="2"/>
<circle class="a" cx="636.0" cy="51.3" r="2"/>
<circle class="a" cx="634.0" cy="51.0" r="2"/>
<circle class="a" cx="646.5" cy="45.4" r="2"/>
<circle class="a" cx="636.2" cy="52.3" r="2"/>
<circle class="a" cx="643.8" cy="47.1" r="2"/>
<circle class="a" cx="643.1" cy="48.1" r="2"/>
<circle class="a" cx="645.4" cy="45.8" r="2"/>
<circle class="a" cx="638.9" cy="50.9" r="2"/>
<circle class="a" cx="640.3" cy="46.7" r="2"/>
<circle class="a" cx="637.3" cy="49.2" r="2"/>
<circle class="a" cx="636.1" cy="52.0" r="2"/>
<circle class="a" cx="637.0" cy="50.6" r="2"/>
<circle class="a" cx="643.8" cy="48.2" r="2"/>
<circle class="a" cx="645.8" cy="45.7" r="2"/>
<circle class="a" cx="647.6" cy="44.5" r="2"/>
<circle class="a" cx="642.4" cy="47.5" r="2"/>
<circle class="a" cx="644.7" cy="47.0" r="2"/>
<circle class="a" cx="639.7" cy="45.8" r="2"/>
<circle class="a" cx="635.9" cy="54.0" r="2"/>
<circle class="a" cx="643.4" cy="45.9" r="2"/>
<circle class="a" cx="642.3" cy="45.3" r="2"/>
<circle class="a" cx="635.3" cy="52.5" r="2"/>
<circle class="a" cx="639.7" cy="49.0" r="2"/>
<circle class="a" cx="641.0" cy="49.7" r="2"/>
<circle class="a" cx="645.7" cy="42.9" r="2"/>
<circle class="a" cx="643.4" cy="48.2" r="2"/>
<circle class="a" cx="640.2" cy="48.6" r="2"/>
<circle class="a" cx="642.4" cy="46.9" r="2"/>
<circle class="a" cx="644.7" cy="46.6" r="2"/>
<circle class="a" cx="640.4" cy="50.3" r="2"/>
<circle class="a" cx="633.8" cy="51.1" r="2"/>
<circle class="a" cx="636.3" cy="51.9" r="2"/>
<circle class="a" cx="638.0" cy="51.6" r="2"/>
<circle class="a" cx="644.3" cy="46.3" r="2"/>
<circle class="a" cx="641.0" cy="49.9" r="2"/>
<circle class="a" cx="648.7" cy="42.7" r="2"/>
<circle class="a" cx="648.8" cy="43.3" r="2"/>
<circle class="a" cx="650.1" cy="45.5" r="2"/>
<circle class="a" cx="643.9" cy="47.2" r="2"/>
<circle class="a" cx="647.0" cy="42.6" r="2"/>
<circle class="a" cx="645.4" cy="43.7" r="2"/>
<circle class="a" cx="635.3" cy="52.6" r="2"/>
<circle class="a" cx="634.9" cy="52.7" r="2"/>
<circle class="a" cx="638.3" cy="50.8" r="2"/>
<circle class="a" cx="639.6" cy="49.3" r="2"/>
<circle class="a" cx="648.6" cy="44.8" r="2"/>
<circle class="a" cx="648.5" cy="45.3" r="2"/>
<circle class="a" cx="648.5" cy="44.4" r="2"/>
<circle class="a" cx="647.7" cy="43.6" r="2"/>
<circle class="a" cx="642.7" cy="46.7" r="2"/>
<circle class="a" cx="646.5" cy="47.4" r="2"/>
<circle class="a" cx="637.5" cy="48.0" r="2"/>
<circle class="a" cx="638.0" cy="50.9" r="2"/>
<circle class="a" cx="639.4" cy="47.8" r="2"/>
<circle class="a" cx="647.2" cy="43.7" r="2"/>
<circle class="a" cx="637.5" cy="47.5" r="2"/>
<circle class="a" cx="635.1" cy="52.5" r="2"/>
<circle class="a" cx="639.7" cy="49.9" r="2"/>
<circle class="a" cx="649.5" cy="44.7" r="2"/>
<circle class="a" cx="640.7" cy="49.4" r="2"/>
<circle class="a" cx="648.1" cy="43.1" r="2"/>
<circle class="a" cx="638.9" cy="49.0" r="2"/>
<circle class="a" cx="647.8" cy="45.0" r="2"/>
<circle class="a" cx="637.8" cy="50.7" r="2"/>
<circle class="a" cx="642.5" cy="47.4" r="2"/>
<circle class="a" cx="633.1" cy="53.7" r="2"/>
<circle class="a" cx="650.3" cy="42.1" r="2"/>
<circle class="b" cx="650.5" cy="46.6" r="2"/>
<circle class="b" cx="649.7" cy="48.2" r="2"/>
<circle class="b" cx="653.7" cy="43.9" r="2"/>
<circle class="b" cx="649.8" cy="48.2" r="2"/>
<circle class="b" cx="655.9" cy="42.0" r="2"/>
<circle class="b" cx="651.6" cy="46.2" r="2"/>
<circle class="b" cx="650.9" cy="46.9" r="2"/>
<circle class="b" cx="646.1" cy="50.8" r="2"/>
<circle class="b" cx="654.1" cy="43.7" r="2"/>
<circle class="b" cx="655.3" cy="43.2" r="2"/>
<circle class="b" cx="651.0" cy="46.5" r="2"/>
<circle class="b" cx="651.0" cy="46.4" r="2"/>
<circle class="b" cx="643.5" cy="52.6" r="2"/>
<circle class="b" cx="647.9" cy="49.1" r="2"/>
<circle class="b" cx="647.7" cy="49.3" r="2"/>
<circle class="b" cx="656.3" cy="42.4" r="2"/>
<circle class="b" cx="646.4" cy="51.1" r="2"/>
<circle class="b" cx="651.2" cy="47.0" r="2"/>
<circle class="b" cx="652.1" cy="46.1" r="2"/>
<circle class="b" cx="646.1" cy="50.5" r="2"/>
<circle class="b" cx="649.7" cy="48.0" r="2"/>
<circle class="b" cx="650.5" cy="46.9" r="2"/>
<circle class="b" cx="652.6" cy="45.1" r="2"/>
<circle class="b" cx="655.9" cy="42.1" r="2"/>
<circle class="b" cx="649.8" cy="47.8" r="2"/>
<circle class="b" cx="653.3" cy="44.3" r="2"/>
<circle class="b" cx="645.5" cy="51.4" r="2"/>
<circle class="b" cx="653.5" cy="44.0" r="2"/>
<circle class="b" cx="645.4" cy="50.9" r="2"/>
<circle class="b" cx="655.7" cy="42.8" r="2"/>
<circle class="b" cx="654.8" cy="43.4" r="2"/>
<circle class="b" cx="646.2" cy="50.3" r="2"/>
<circle class="b" cx="650.8" cy="46.6" r="2"/>
<circle class="b" cx="648.5" cy="49.0" r="2"/>
<circle class="b" cx="647.9" cy="48.6" r="2"/>
<circle class="b" cx="649.0" cy="48.9" r="2"/>
<circle class="b" cx="648.6" cy="48.7" r="2"/>
<circle class="b" cx="642.5" cy="54.1" r="2"/>
<circle class="b" cx="648.0" cy="49.3" r="2"/>
<circle class="b" cx="648.9" cy="47.8" r="2"/>
<circle class="b" cx="644.0" cy="51.8" r="2"/>
<circle class="b" cx="644.7" cy="51.6" r="2"/>
<circle class="b" cx="653.0" cy="45.0" r="2"/>
<circle class="b" cx="654.5" cy="43.0" r="2"/>
<circle class="b" cx="652.5" cy="45.0" r="2"/>
<circle class="c" cx="644.0" cy="53.5" r="2"/>
<circle class="c" cx="644.4" cy="54.5" r="2"/>
<circle class="c" cx="647.7" cy="51.7" r="2"/>
<circle class="c" cx="647.8" cy="52.3" r="2"/>
<circle class="c" cx="648.4" cy="51.5" r="2"/>
<circle class="c" cx="656.4" cy="43.1" r="2"/>
<circle class="c" cx="650.9" cy="46.3" r="2"/>
<circle class="c" cx="645.8" cy="52.3" r="2"/>
<circle class="c" cx="655.3" cy="44.1" r="2"/>
<circle class="c" cx="651.0" cy="48.3" r="2"/>
<circle class="c" cx="643.8" cy="52.9" r="2"/>
<circle class="c" cx="652.8" cy="46.0" r="2"/>
<circle class="c" cx="652.7" cy="46.7" r="2"/>
<circle class="c" cx="653.0" cy="46.5" r="2"/>
<circle class="c" cx="651.2" cy="48.9" r="2"/>
<circle class="c" cx="644.1" cy="53.5" r="2"/>
<circle class="c" cx="643.5" cy="55.2" r="2"/>
<circle class="c" cx="653.8" cy="45.8" r="2"/>
<circle class="c" cx="651.7" cy="49.1" r="2"/>
<circle class="c" cx="649.4" cy="47.9" r="2"/>
<circle class="c" cx="645.2" cy="53.5" r="2"/>
<circle class="c" cx="645.7" cy="54.0" r="2"/>
<circle class="c" cx="650.1" cy="48.6" r="2"/>
<circle class="c" cx="644.1" cy="54.1" r="2"/>
<circle class="c" cx="655.7" cy="42.9" r="2"/>
<circle class="c" cx="649.1" cy="49.9" r="2"/>
<circle class="c" cx="653.7" cy="44.9" r="2"/>
<circle class="c" cx="650.5" cy="47.3" r="2"/>
<circle class="c" cx="645.0" cy="53.3" r="2"/>
<circle class="c" cx="643.9" cy="55.1" r="2"/>
<circle class="c" cx="652.6" cy="48.4" r="2"/>
<circle class="c" cx="642.9" cy="53.1" r="2"/>
<circle class="c" cx="645.6" cy="52.6" r="2"/>
<circle class="c" cx="646.0" cy="52.3" r="2"/>
<circle class="c" cx="648.6" cy="50.3" r="2"/>
<circle class="c" cx="643.6" cy="54.2" r="2"/>
<circle class="c" cx="646.4" cy="52.2" r="2"/>
<circle class="c" cx="651.5" cy="48.3" r="2"/>
<circle class="c" cx="649.4" cy="49.6" r="2"/>
<circle class="c" cx="648.8" cy="50.0" r="2"/>
<circle class="c" cx="643.6" cy="53.8" r="2"/>
<circle class="c" cx="650.5" cy="47.2" r="2"/>
<circle class="c" cx="648.1" cy="49.3" r="2"/>
<circle class="c" cx="643.8" cy="55.3" r="2"/>
<circle class="c" cx="655.4" cy="44.9" r="2"/>
<circle class="c" cx="648.5" cy="50.6" r="2"/>
<circle class="c" cx="643.5" cy="55.4" r="2"/>
<circle class="c" cx="647.7" cy="50.2" r="2"/>
<circle class="c" cx="648.0" cy="51.4" r="2"/>
<circle class="c" cx="651.8" cy="46.8" r="2"/>
<circle class="c" cx="655.4" cy="42.3" r="2"/>
<circle class="c" cx="651.3" cy="49.0" r="2"/>
<circle class="c" cx="648.0" cy="49.8" r="2"/>
<circle class="c" cx="649.2" cy="49.9" r="2"/>
<circle class="c" cx="647.8" cy="52.7" r="2"/>
<circle class="c" cx="646.5" cy="52.3" r="2"/>
<circle class="c" cx="645.0" cy="53.7" r="2"/>
<circle class="c" cx="654.6" cy="46.3" r="2"/>
<circle class="c" cx="649.9" cy="47.3" r="2"/>
<circle class="c" cx="646.6" cy="52.3" r="2"/>
<circle class="c" cx="648.3" cy="50.7" r="2"/>
<circle class="c" cx="652.3" cy="48.1" r="2"/>
<circle class="c" cx="651.0" cy="47.8" r="2"/>
<circle class="c" cx="646.4" cy="53.2" r="2"/>
<circle class="c" cx="654.5" cy="44.0" r="2"/>
<circle class="c" cx="651.1" cy="49.3" r="2"/>
<circle class="c" cx="648.4" cy="49.8" r="2"/>
<circle class="c" cx="653.5" cy="46.0" r="2"/>
<circle class="c" cx="653.3" cy="47.9" r="2"/>
<circle class="c" cx="653.9" cy="46.8" r="2"/>
<circle class="c" cx="654.5" cy="46.8" r="2"/>
<circle class="c" cx="645.2" cy="53.4" r="2"/>
<circle class="c" cx="643.0" cy="54.6" r="2"/>
<circle class="c" cx="653.1" cy="44.8" r="2"/>
<circle class="c" cx="646.7" cy="52.7" r="2"/>
<circle class="c" cx="645.0" cy="55.4" r="2"/>
<circle class="c" cx="656.1" cy="44.4" r="2"/>
<circle class="c" cx="644.9" cy="51.7" r="2"/>
<circle class="c" cx="653.4" cy="46.8" r="2"/>
<circle class="c" cx="654.7" cy="45.5" r="2"/>
</g>
<rect x="493.0" y="17.95" width="191.50" height="177.55" fill="none" stroke="#999" stroke-width="1"/>
<rect x="500.61" y="195.80" width="2" height="2" fill="#000"/>
<rect x="490.40" y="186.52" width="2" height="2" fill="#000"/>
<text transform="translate(501.61,206.45) scale(1,1.04)" font-size="8.4" fill="#262626" text-anchor="middle">0.5</text>
<text transform="translate(488.45,190.72) scale(1,1.04)" font-size="8.4" fill="#262626" text-anchor="end">0.5</text>
<rect x="539.39" y="195.80" width="2" height="2" fill="#000"/>
<rect x="490.40" y="150.56" width="2" height="2" fill="#000"/>
<text transform="translate(540.39,206.45) scale(1,1.04)" font-size="8.4" fill="#262626" text-anchor="middle">0.6</text>
<text transform="translate(488.45,154.76) scale(1,1.04)" font-size="8.4" fill="#262626" text-anchor="end">0.6</text>
<rect x="578.17" y="195.80" width="2" height="2" fill="#000"/>
<rect x="490.40" y="114.61" width="2" height="2" fill="#000"/>
<text transform="translate(579.17,206.45) scale(1,1.04)" font-size="8.4" fill="#262626" text-anchor="middle">0.7</text>
<text transform="translate(488.45,118.81) scale(1,1.04)" font-size="8.4" fill="#262626" text-anchor="end">0.7</text>
<rect x="616.95" y="195.80" width="2" height="2" fill="#000"/>
<rect x="490.40" y="78.65" width="2" height="2" fill="#000"/>
<text transform="translate(617.95,206.45) scale(1,1.04)" font-size="8.4" fill="#262626" text-anchor="middle">0.8</text>
<text transform="translate(488.45,82.85) scale(1,1.04)" font-size="8.4" fill="#262626" text-anchor="end">0.8</text>
<rect x="655.73" y="195.80" width="2" height="2" fill="#000"/>
<rect x="490.40" y="42.69" width="2" height="2" fill="#000"/>
<text transform="translate(656.73,206.45) scale(1,1.04)" font-size="8.4" fill="#262626" text-anchor="middle">0.9</text>
<text transform="translate(488.45,46.89) scale(1,1.04)" font-size="8.4" fill="#262626" text-anchor="end">0.9</text>
<text transform="translate(588.75,9.85) scale(1,1.0)" font-size="13.2" fill="#000" text-anchor="middle">RA</text>
<text transform="translate(588.75,219.05) scale(1,1.03)" font-size="11.3" fill="#000" text-anchor="middle">Predictive ability of Basic method</text>
<text transform="translate(471.30,107.32) rotate(-90) scale(1,1.03)" font-size="11.35" fill="#000" text-anchor="middle">Predictive ability of ELPGV</text>
<g clip-path="url(#cp10)">
<line x1="31.5" y1="426.5" x2="222.5" y2="248.5" stroke="#454545" stroke-width="1.7" stroke-dasharray="7.25 7.25" stroke-dashoffset="1.0"/>
<circle class="d" cx="67.5" cy="273.8" r="2"/>
<circle class="d" cx="47.7" cy="268.5" r="2"/>
<circle class="d" cx="58.6" cy="279.2" r="2"/>
<circle class="d" cx="58.5" cy="279.6" r="2"/>
<circle class="d" cx="44.0" cy="275.1" r="2"/>
<circle class="d" cx="60.9" cy="272.2" r="2"/>
<circle class="d" cx="54.7" cy="281.3" r="2"/>
<circle class="d" cx="70.3" cy="271.9" r="2"/>
<circle class="d" cx="59.9" cy="278.8" r="2"/>
<circle class="d" cx="56.8" cy="271.4" r="2"/>
<circle class="d" cx="50.3" cy="271.0" r="2"/>
<circle class="d" cx="59.1" cy="269.0" r="2"/>
<circle class="d" cx="52.7" cy="272.6" r="2"/>
<circle class="d" cx="77.4" cy="271.3" r="2"/>
<circle class="d" cx="64.2" cy="272.3" r="2"/>
<circle class="d" cx="53.3" cy="270.1" r="2"/>
<circle class="d" cx="59.8" cy="271.1" r="2"/>
<circle class="d" cx="53.8" cy="273.9" r="2"/>
<circle class="d" cx="52.9" cy="272.4" r="2"/>
<circle class="d" cx="51.0" cy="278.0" r="2"/>
<circle class="d" cx="47.5" cy="275.7" r="2"/>
<circle class="d" cx="58.4" cy="273.6" r="2"/>
<circle class="d" cx="55.2" cy="280.8" r="2"/>
<circle class="d" cx="61.1" cy="275.6" r="2"/>
<circle class="d" cx="51.1" cy="272.3" r="2"/>
<circle class="d" cx="53.1" cy="273.6" r="2"/>
<circle class="d" cx="58.7" cy="276.4" r="2"/>
<circle class="d" cx="58.4" cy="271.5" r="2"/>
<circle class="d" cx="46.1" cy="273.9" r="2"/>
<circle class="d" cx="41.8" cy="275.6" r="2"/>
<circle class="d" cx="52.6" cy="273.9" r="2"/>
<circle class="d" cx="48.1" cy="277.9" r="2"/>
<circle class="d" cx="56.8" cy="269.7" r="2"/>
<circle class="d" cx="59.3" cy="275.3" r="2"/>
<circle class="d" cx="47.5" cy="277.5" r="2"/>
<circle class="d" cx="61.5" cy="272.7" r="2"/>
<circle class="d" cx="70.5" cy="278.2" r="2"/>
<circle class="d" cx="53.0" cy="270.9" r="2"/>
<circle class="d" cx="57.4" cy="275.3" r="2"/>
<circle class="d" cx="53.4" cy="279.8" r="2"/>
<circle class="d" cx="55.7" cy="276.3" r="2"/>
<circle class="d" cx="63.2" cy="272.8" r="2"/>
<circle class="d" cx="49.1" cy="267.6" r="2"/>
<circle class="d" cx="58.4" cy="273.4" r="2"/>
<circle class="d" cx="72.6" cy="275.7" r="2"/>
<circle class="d" cx="71.9" cy="275.3" r="2"/>
<circle class="d" cx="66.2" cy="271.7" r="2"/>
<circle class="d" cx="68.1" cy="278.1" r="2"/>
<circle class="d" cx="62.1" cy="269.2" r="2"/>
<circle class="d" cx="74.7" cy="276.3" r="2"/>
<circle class="d" cx="54.0" cy="272.0" r="2"/>
<circle class="d" cx="66.4" cy="272.8" r="2"/>
<circle class="d" cx="54.3" cy="280.1" r="2"/>
<circle class="d" cx="62.0" cy="271.3" r="2"/>
<circle class="d" cx="62.5" cy="275.7" r="2"/>
<circle class="d" cx="43.7" cy="272.6" r="2"/>
<circle class="d" cx="61.1" cy="270.2" r="2"/>
<circle class="d" cx="69.0" cy="270.8" r="2"/>
<circle class="d" cx="53.8" cy="277.8" r="2"/>
<circle class="d" cx="60.6" cy="273.2" r="2"/>
<circle class="d" cx="59.3" cy="277.8" r="2"/>
<circle class="d" cx="70.6" cy="273.8" r="2"/>
<circle class="d" cx="46.5" cy="274.1" r="2"/>
<circle class="d" cx="43.4" cy="274.9" r="2"/>
<circle class="d" cx="54.7" cy="279.5" r="2"/>
<circle class="d" cx="72.7" cy="275.6" r="2"/>
<circle class="d" cx="72.2" cy="275.6" r="2"/>
<circle class="d" cx="62.1" cy="273.2" r="2"/>
<circle class="d" cx="75.7" cy="270.6" r="2"/>
<circle class="d" cx="52.5" cy="273.2" r="2"/>
<circle class="d" cx="46.6" cy="272.1" r="2"/>
<circle class="d" cx="50.0" cy="269.9" r="2"/>
<circle class="d" cx="45.9" cy="268.9" r="2"/>
<circle class="d" cx="42.9" cy="277.9" r="2"/>
<circle class="d" cx="63.7" cy="275.4" r="2"/>
<circle class="d" cx="61.8" cy="268.4" r="2"/>
<circle class="d" cx="45.6" cy="274.6" r="2"/>
<circle class="d" cx="75.7" cy="273.1" r="2"/>
<circle class="d" cx="60.0" cy="270.7" r="2"/>
<circle class="d" cx="54.4" cy="282.1" r="2"/>
<circle class="d" cx="43.4" cy="272.0" r="2"/>
<circle class="d" cx="40.2" cy="275.5" r="2"/>
<circle class="d" cx="42.9" cy="277.9" r="2"/>
<circle class="d" cx="45.8" cy="268.6" r="2"/>
<circle class="d" cx="48.7" cy="267.8" r="2"/>
<circle class="d" cx="46.6" cy="274.2" r="2"/>
<circle class="d" cx="48.4" cy="277.9" r="2"/>
<circle class="d" cx="50.5" cy="271.0" r="2"/>
<circle class="d" cx="51.9" cy="274.4" r="2"/>
<circle class="d" cx="52.9" cy="270.5" r="2"/>
<circle class="d" cx="55.0" cy="276.3" r="2"/>
<circle class="d" cx="54.5" cy="279.4" r="2"/>
<circle class="d" cx="54.8" cy="281.8" r="2"/>
<circle class="d" cx="57.1" cy="268.9" r="2"/>
<circle class="d" cx="58.2" cy="273.1" r="2"/>
<circle class="d" cx="59.5" cy="276.3" r="2"/>
<circle class="d" cx="40.8" cy="272.0" r="2"/>
<circle class="d" cx="44.5" cy="275.2" r="2"/>
<circle class="d" cx="62.3" cy="268.3" r="2"/>
<circle class="d" cx="61.0" cy="272.3" r="2"/>
<circle class="d" cx="66.3" cy="272.3" r="2"/>
<circle class="d" cx="63.7" cy="276.0" r="2"/>
<circle class="d" cx="58.6" cy="274.4" r="2"/>
<circle class="d" cx="60.5" cy="277.3" r="2"/>
<circle class="d" cx="69.2" cy="273.6" r="2"/>
<circle class="d" cx="72.4" cy="275.2" r="2"/>
<circle class="d" cx="72.4" cy="279.4" r="2"/>
<circle class="d" cx="76.3" cy="268.9" r="2"/>
<circle class="d" cx="78.2" cy="271.5" r="2"/>
<circle class="d" cx="75.6" cy="273.6" r="2"/>
<circle class="d" cx="65.5" cy="277.9" r="2"/>
<circle class="d" cx="68.7" cy="270.5" r="2"/>
<circle class="a" cx="178.0" cy="272.3" r="2"/>
<circle class="a" cx="177.4" cy="277.3" r="2"/>
<circle class="a" cx="173.1" cy="276.8" r="2"/>
<circle class="a" cx="182.4" cy="269.6" r="2"/>
<circle class="a" cx="181.1" cy="270.5" r="2"/>
<circle class="a" cx="185.9" cy="270.8" r="2"/>
<circle class="a" cx="175.5" cy="274.7" r="2"/>
<circle class="a" cx="176.3" cy="278.3" r="2"/>
<circle class="a" cx="176.6" cy="278.0" r="2"/>
<circle class="a" cx="179.3" cy="270.8" r="2"/>
<circle class="a" cx="182.6" cy="272.4" r="2"/>
<circle class="a" cx="173.9" cy="279.6" r="2"/>
<circle class="a" cx="184.3" cy="267.2" r="2"/>
<circle class="a" cx="181.2" cy="274.6" r="2"/>
<circle class="a" cx="173.0" cy="276.4" r="2"/>
<circle class="a" cx="173.7" cy="278.5" r="2"/>
<circle class="a" cx="181.0" cy="274.7" r="2"/>
<circle class="a" cx="173.9" cy="278.7" r="2"/>
<circle class="a" cx="173.0" cy="273.7" r="2"/>
<circle class="a" cx="183.1" cy="271.0" r="2"/>
<circle class="a" cx="185.4" cy="269.4" r="2"/>
<circle class="a" cx="175.0" cy="273.3" r="2"/>
<circle class="a" cx="177.2" cy="278.9" r="2"/>
<circle class="a" cx="183.5" cy="269.5" r="2"/>
<circle class="a" cx="180.4" cy="270.1" r="2"/>
<circle class="a" cx="182.7" cy="274.1" r="2"/>
<circle class="a" cx="177.3" cy="271.8" r="2"/>
<circle class="a" cx="185.7" cy="271.6" r="2"/>
<circle class="a" cx="176.2" cy="278.7" r="2"/>
<circle class="a" cx="176.2" cy="273.2" r="2"/>
<circle class="a" cx="177.8" cy="275.4" r="2"/>
<circle class="a" cx="173.8" cy="277.3" r="2"/>
<circle class="a" cx="178.8" cy="271.8" r="2"/>
<circle class="a" cx="181.4" cy="272.7" r="2"/>
<circle class="a" cx="174.5" cy="276.9" r="2"/>
<circle class="a" cx="183.5" cy="268.1" r="2"/>
<circle class="a" cx="176.2" cy="274.6" r="2"/>
<circle class="a" cx="180.3" cy="276.6" r="2"/>
<circle class="a" cx="181.4" cy="271.0" r="2"/>
<circle class="a" cx="185.0" cy="270.1" r="2"/>
<circle class="a" cx="173.4" cy="275.9" r="2"/>
<circle class="a" cx="182.0" cy="266.9" r="2"/>
<circle class="a" cx="179.8" cy="271.6" r="2"/>
<circle class="a" cx="175.6" cy="277.0" r="2"/>
<circle class="a" cx="178.1" cy="274.4" r="2"/>
<circle class="a" cx="183.7" cy="269.2" r="2"/>
<circle class="a" cx="174.8" cy="279.9" r="2"/>
<circle class="a" cx="175.9" cy="277.3" r="2"/>
<circle class="a" cx="172.9" cy="278.8" r="2"/>
<circle class="a" cx="173.7" cy="279.1" r="2"/>
<circle class="a" cx="180.2" cy="269.5" r="2"/>
<circle class="a" cx="171.8" cy="278.6" r="2"/>
<circle class="a" cx="174.0" cy="281.2" r="2"/>
<circle class="a" cx="177.5" cy="277.0" r="2"/>
<circle class="a" cx="183.9" cy="270.1" r="2"/>
<circle class="a" cx="170.6" cy="276.4" r="2"/>
<circle class="a" cx="183.0" cy="270.8" r="2"/>
<circle class="a" cx="175.9" cy="279.1" r="2"/>
<circle class="a" cx="171.4" cy="275.8" r="2"/>
<circle class="a" cx="180.9" cy="273.4" r="2"/>
<circle class="a" cx="184.9" cy="269.4" r="2"/>
<circle class="a" cx="176.1" cy="275.4" r="2"/>
<circle class="a" cx="180.3" cy="271.5" r="2"/>
<circle class="a" cx="182.8" cy="273.1" r="2"/>
<circle class="a" cx="183.4" cy="270.4" r="2"/>
<circle class="a" cx="175.0" cy="277.1" r="2"/>
<circle class="a" cx="179.8" cy="274.3" r="2"/>
<circle class="a" cx="175.9" cy="273.9" r="2"/>
<circle class="a" cx="175.5" cy="274.0" r="2"/>
<circle class="a" cx="171.7" cy="274.4" r="2"/>
<circle class="a" cx="184.4" cy="267.6" r="2"/>
<circle class="a" cx="179.9" cy="272.0" r="2"/>
<circle class="a" cx="182.7" cy="270.0" r="2"/>
<circle class="a" cx="180.8" cy="272.3" r="2"/>
<circle class="a" cx="178.9" cy="269.7" r="2"/>
<circle class="a" cx="178.9" cy="272.3" r="2"/>
<circle class="a" cx="175.9" cy="273.9" r="2"/>
<circle class="a" cx="175.2" cy="276.1" r="2"/>
<circle class="a" cx="181.4" cy="275.6" r="2"/>
<circle class="a" cx="186.6" cy="270.5" r="2"/>
<circle class="a" cx="163.4" cy="280.7" r="2"/>
<circle class="a" cx="163.7" cy="282.2" r="2"/>
<circle class="a" cx="169.7" cy="281.6" r="2"/>
<circle class="a" cx="184.0" cy="266.4" r="2"/>
<circle class="a" cx="171.4" cy="279.3" r="2"/>
<circle class="a" cx="186.9" cy="269.0" r="2"/>
<circle class="a" cx="188.0" cy="272.4" r="2"/>
<circle class="b" cx="184.4" cy="279.8" r="2"/>
<circle class="b" cx="199.8" cy="265.2" r="2"/>
<circle class="b" cx="199.1" cy="266.0" r="2"/>
<circle class="b" cx="191.8" cy="272.9" r="2"/>
<circle class="b" cx="185.6" cy="279.0" r="2"/>
<circle class="b" cx="192.9" cy="271.7" r="2"/>
<circle class="b" cx="195.9" cy="270.0" r="2"/>
<circle class="b" cx="197.4" cy="267.2" r="2"/>
<circle class="b" cx="196.1" cy="268.7" r="2"/>
<circle class="b" cx="195.0" cy="270.1" r="2"/>
<circle class="b" cx="190.1" cy="274.9" r="2"/>
<circle class="b" cx="198.6" cy="266.4" r="2"/>
<circle class="b" cx="198.4" cy="266.6" r="2"/>
<circle class="b" cx="196.6" cy="268.8" r="2"/>
<circle class="b" cx="182.3" cy="282.1" r="2"/>
<circle class="b" cx="196.8" cy="268.4" r="2"/>
<circle class="b" cx="198.7" cy="266.4" r="2"/>
<circle class="b" cx="185.8" cy="278.4" r="2"/>
<circle class="b" cx="189.0" cy="276.2" r="2"/>
<circle class="b" cx="193.9" cy="270.9" r="2"/>
<circle class="b" cx="197.9" cy="267.5" r="2"/>
<circle class="b" cx="195.0" cy="270.1" r="2"/>
<circle class="b" cx="186.2" cy="278.2" r="2"/>
<circle class="b" cx="189.9" cy="275.3" r="2"/>
<circle class="b" cx="187.2" cy="277.9" r="2"/>
<circle class="b" cx="199.9" cy="265.1" r="2"/>
<circle class="b" cx="196.2" cy="269.1" r="2"/>
<circle class="b" cx="199.7" cy="265.9" r="2"/>
<circle class="b" cx="183.6" cy="281.2" r="2"/>
<circle class="b" cx="182.0" cy="282.7" r="2"/>
<circle class="b" cx="187.6" cy="276.8" r="2"/>
<circle class="b" cx="193.3" cy="272.0" r="2"/>
<circle class="b" cx="182.7" cy="281.6" r="2"/>
<circle class="b" cx="196.6" cy="269.1" r="2"/>
<circle class="b" cx="182.3" cy="281.5" r="2"/>
<circle class="b" cx="196.0" cy="268.7" r="2"/>
<circle class="b" cx="184.5" cy="280.2" r="2"/>
<circle class="b" cx="199.0" cy="265.9" r="2"/>
<circle class="b" cx="184.2" cy="279.5" r="2"/>
<circle class="b" cx="198.9" cy="266.7" r="2"/>
<circle class="b" cx="191.3" cy="273.9" r="2"/>
<circle class="b" cx="188.3" cy="276.4" r="2"/>
<circle class="b" cx="188.9" cy="275.3" r="2"/>
<circle class="b" cx="189.3" cy="275.1" r="2"/>
<circle class="b" cx="188.9" cy="275.3" r="2"/>
<circle class="b" cx="188.3" cy="277.0" r="2"/>
<circle class="b" cx="185.3" cy="278.8" r="2"/>
<circle class="b" cx="193.6" cy="271.7" r="2"/>
<circle class="b" cx="192.9" cy="272.1" r="2"/>
<circle class="b" cx="192.4" cy="272.4" r="2"/>
<circle class="b" cx="182.3" cy="281.4" r="2"/>
<circle class="b" cx="198.5" cy="267.0" r="2"/>
<circle class="b" cx="199.6" cy="265.8" r="2"/>
<circle class="b" cx="199.8" cy="265.5" r="2"/>
<circle class="b" cx="186.0" cy="278.7" r="2"/>
<circle class="c" cx="195.5" cy="272.9" r="2"/>
<circle class="c" cx="204.2" cy="264.4" r="2"/>
<circle class="c" cx="196.0" cy="273.8" r="2"/>
<circle class="c" cx="204.5" cy="265.7" r="2"/>
<circle class="c" cx="186.8" cy="281.9" r="2"/>
<circle class="c" cx="190.5" cy="278.2" r="2"/>
<circle class="c" cx="204.0" cy="265.3" r="2"/>
<circle class="c" cx="200.7" cy="268.6" r="2"/>
<circle class="c" cx="203.6" cy="265.5" r="2"/>
<circle class="c" cx="186.5" cy="282.8" r="2"/>
<circle class="c" cx="194.1" cy="274.8" r="2"/>
<circle class="c" cx="193.6" cy="275.9" r="2"/>
<circle class="c" cx="204.5" cy="264.7" r="2"/>
<circle class="c" cx="193.3" cy="275.2" r="2"/>
<circle class="c" cx="195.6" cy="273.1" r="2"/>
<circle class="c" cx="200.1" cy="269.2" r="2"/>
<circle class="c" cx="202.6" cy="267.0" r="2"/>
<circle class="c" cx="198.7" cy="270.3" r="2"/>
<circle class="c" cx="200.0" cy="270.3" r="2"/>
<circle class="c" cx="198.1" cy="270.9" r="2"/>
<circle class="c" cx="187.0" cy="281.6" r="2"/>
<circle class="c" cx="199.1" cy="269.8" r="2"/>
<circle class="c" cx="192.7" cy="275.3" r="2"/>
<circle class="c" cx="193.7" cy="274.9" r="2"/>
<circle class="c" cx="197.8" cy="270.4" r="2"/>
<circle class="c" cx="194.6" cy="274.6" r="2"/>
<circle class="c" cx="197.5" cy="270.9" r="2"/>
<circle class="c" cx="195.9" cy="273.1" r="2"/>
<circle class="c" cx="192.9" cy="276.5" r="2"/>
<circle class="c" cx="201.6" cy="266.5" r="2"/>
<circle class="c" cx="190.9" cy="278.7" r="2"/>
<circle class="c" cx="198.1" cy="271.0" r="2"/>
<circle class="c" cx="200.6" cy="268.3" r="2"/>
<circle class="c" cx="198.6" cy="271.4" r="2"/>
<circle class="c" cx="190.2" cy="278.1" r="2"/>
<circle class="c" cx="201.7" cy="267.8" r="2"/>
<circle class="c" cx="196.5" cy="272.0" r="2"/>
<circle class="c" cx="196.5" cy="272.7" r="2"/>
<circle class="c" cx="199.9" cy="269.1" r="2"/>
<circle class="c" cx="192.4" cy="276.5" r="2"/>
<circle class="c" cx="192.6" cy="276.6" r="2"/>
<circle class="c" cx="198.6" cy="271.0" r="2"/>
<circle class="c" cx="189.2" cy="280.4" r="2"/>
<circle class="c" cx="203.9" cy="265.9" r="2"/>
<circle class="c" cx="202.5" cy="265.9" r="2"/>
<circle class="c" cx="191.2" cy="276.9" r="2"/>
<circle class="c" cx="194.1" cy="275.8" r="2"/>
<circle class="c" cx="193.2" cy="275.5" r="2"/>
<circle class="c" cx="192.1" cy="276.2" r="2"/>
<circle class="c" cx="197.9" cy="270.6" r="2"/>
<circle class="c" cx="198.1" cy="270.9" r="2"/>
<circle class="c" cx="190.6" cy="278.1" r="2"/>
<circle class="c" cx="187.9" cy="281.5" r="2"/>
<circle class="c" cx="197.6" cy="271.4" r="2"/>
<circle class="c" cx="195.1" cy="273.4" r="2"/>
<circle class="c" cx="185.8" cy="283.4" r="2"/>
<circle class="c" cx="198.3" cy="271.2" r="2"/>
<circle class="c" cx="196.8" cy="271.1" r="2"/>
<circle class="c" cx="190.2" cy="278.5" r="2"/>
<circle class="c" cx="196.3" cy="273.1" r="2"/>
<circle class="c" cx="196.7" cy="272.3" r="2"/>
<circle class="c" cx="190.1" cy="278.3" r="2"/>
<circle class="c" cx="190.1" cy="278.0" r="2"/>
<circle class="c" cx="195.0" cy="274.2" r="2"/>
<circle class="c" cx="187.7" cy="282.2" r="2"/>
<circle class="c" cx="191.5" cy="278.5" r="2"/>
<circle class="c" cx="200.8" cy="269.1" r="2"/>
<circle class="c" cx="192.4" cy="276.0" r="2"/>
<circle class="c" cx="186.2" cy="282.5" r="2"/>
<circle class="c" cx="197.1" cy="271.9" r="2"/>
<circle class="c" cx="201.9" cy="267.6" r="2"/>
<circle class="c" cx="201.2" cy="266.8" r="2"/>
<circle class="c" cx="196.7" cy="272.7" r="2"/>
<circle class="c" cx="202.0" cy="267.3" r="2"/>
<circle class="c" cx="186.6" cy="281.5" r="2"/>
<circle class="c" cx="193.5" cy="275.7" r="2"/>
<circle class="c" cx="203.0" cy="265.4" r="2"/>
<circle class="c" cx="187.0" cy="280.8" r="2"/>
<circle class="c" cx="196.7" cy="273.2" r="2"/>
<circle class="c" cx="193.6" cy="274.9" r="2"/>
<circle class="c" cx="204.6" cy="264.7" r="2"/>
<circle class="c" cx="193.1" cy="276.0" r="2"/>
<circle class="c" cx="188.0" cy="280.8" r="2"/>
<circle class="c" cx="189.8" cy="278.9" r="2"/>
<circle class="c" cx="190.9" cy="277.6" r="2"/>
</g>
<rect x="31.5" y="248.5" width="191.00" height="178.00" fill="none" stroke="#999" stroke-width="1"/>
<rect x="39.04" y="426.80" width="2" height="2" fill="#000"/>
<rect x="28.90" y="417.54" width="2" height="2" fill="#000"/>
<text transform="translate(40.04,436.95) scale(1,1.04)" font-size="8.4" fill="#262626" text-anchor="middle">0.4</text>
<text transform="translate(26.95,421.74) scale(1,1.04)" font-size="8.4" fill="#262626" text-anchor="end">0.4</text>
<rect x="73.88" y="426.80" width="2" height="2" fill="#000"/>
<rect x="28.90" y="385.07" width="2" height="2" fill="#000"/>
<text transform="translate(74.88,436.95) scale(1,1.04)" font-size="8.4" fill="#262626" text-anchor="middle">0.5</text>
<text transform="translate(26.95,389.27) scale(1,1.04)" font-size="8.4" fill="#262626" text-anchor="end">0.5</text>
<rect x="108.72" y="426.80" width="2" height="2" fill="#000"/>
<rect x="28.90" y="352.61" width="2" height="2" fill="#000"/>
<text transform="translate(109.72,436.95) scale(1,1.04)" font-size="8.4" fill="#262626" text-anchor="middle">0.6</text>
<text transform="translate(26.95,356.81) scale(1,1.04)" font-size="8.4" fill="#262626" text-anchor="end">0.6</text>
<rect x="143.56" y="426.80" width="2" height="2" fill="#000"/>
<rect x="28.90" y="320.14" width="2" height="2" fill="#000"/>
<text transform="translate(144.56,436.95) scale(1,1.04)" font-size="8.4" fill="#262626" text-anchor="middle">0.7</text>
<text transform="translate(26.95,324.34) scale(1,1.04)" font-size="8.4" fill="#262626" text-anchor="end">0.7</text>
<rect x="178.40" y="426.80" width="2" height="2" fill="#000"/>
<rect x="28.90" y="287.67" width="2" height="2" fill="#000"/>
<text transform="translate(179.40,436.95) scale(1,1.04)" font-size="8.4" fill="#262626" text-anchor="middle">0.8</text>
<text transform="translate(26.95,291.87) scale(1,1.04)" font-size="8.4" fill="#262626" text-anchor="end">0.8</text>
<rect x="213.24" y="426.80" width="2" height="2" fill="#000"/>
<rect x="28.90" y="255.20" width="2" height="2" fill="#000"/>
<text transform="translate(214.24,436.95) scale(1,1.04)" font-size="8.4" fill="#262626" text-anchor="middle">0.9</text>
<text transform="translate(26.95,259.40) scale(1,1.04)" font-size="8.4" fill="#262626" text-anchor="end">0.9</text>
<text transform="translate(127.00,240.50) scale(1,1.045)" font-size="13.2" fill="#000" text-anchor="middle">T2D</text>
<text transform="translate(127.00,449.85) scale(1,1.03)" font-size="11.3" fill="#000" text-anchor="middle">Predictive ability of Basic method</text>
<text transform="translate(9.80,338.10) rotate(-90) scale(1,1.03)" font-size="11.35" fill="#000" text-anchor="middle">Predictive ability of ELPGV</text>
<g clip-path="url(#cp11)">
<line x1="262.35" y1="426.5" x2="453.5" y2="248.5" stroke="#454545" stroke-width="1.7" stroke-dasharray="7.25 7.25" stroke-dashoffset="1.0"/>
<circle class="d" cx="285.1" cy="267.0" r="2"/>
<circle class="d" cx="304.1" cy="274.4" r="2"/>
<circle class="d" cx="290.1" cy="267.9" r="2"/>
<circle class="d" cx="274.5" cy="274.0" r="2"/>
<circle class="d" cx="291.6" cy="268.1" r="2"/>
<circle class="d" cx="298.6" cy="271.9" r="2"/>
<circle class="d" cx="289.4" cy="266.6" r="2"/>
<circle class="d" cx="308.8" cy="264.7" r="2"/>
<circle class="d" cx="302.6" cy="269.1" r="2"/>
<circle class="d" cx="289.8" cy="267.9" r="2"/>
<circle class="d" cx="273.0" cy="266.3" r="2"/>
<circle class="d" cx="287.3" cy="266.6" r="2"/>
<circle class="d" cx="277.4" cy="270.2" r="2"/>
<circle class="d" cx="305.1" cy="270.5" r="2"/>
<circle class="d" cx="274.4" cy="271.7" r="2"/>
<circle class="d" cx="303.1" cy="272.1" r="2"/>
<circle class="d" cx="295.7" cy="265.6" r="2"/>
<circle class="d" cx="285.2" cy="272.8" r="2"/>
<circle class="d" cx="314.7" cy="267.6" r="2"/>
<circle class="d" cx="289.9" cy="267.5" r="2"/>
<circle class="d" cx="272.5" cy="271.6" r="2"/>
<circle class="d" cx="285.4" cy="272.4" r="2"/>
<circle class="d" cx="287.0" cy="270.5" r="2"/>
<circle class="d" cx="304.5" cy="269.6" r="2"/>
<circle class="d" cx="286.4" cy="267.5" r="2"/>
<circle class="d" cx="302.2" cy="271.7" r="2"/>
<circle class="d" cx="279.3" cy="270.0" r="2"/>
<circle class="d" cx="310.8" cy="264.3" r="2"/>
<circle class="d" cx="276.5" cy="269.3" r="2"/>
<circle class="d" cx="309.1" cy="270.0" r="2"/>
<circle class="d" cx="274.2" cy="271.6" r="2"/>
<circle class="d" cx="279.6" cy="270.0" r="2"/>
<circle class="d" cx="289.9" cy="265.7" r="2"/>
<circle class="d" cx="280.8" cy="271.8" r="2"/>
<circle class="d" cx="287.5" cy="264.8" r="2"/>
<circle class="d" cx="284.7" cy="267.5" r="2"/>
<circle class="d" cx="303.2" cy="267.8" r="2"/>
<circle class="d" cx="295.3" cy="270.0" r="2"/>
<circle class="d" cx="299.4" cy="268.2" r="2"/>
<circle class="d" cx="314.7" cy="267.7" r="2"/>
<circle class="d" cx="302.6" cy="266.8" r="2"/>
<circle class="d" cx="271.1" cy="266.8" r="2"/>
<circle class="d" cx="311.9" cy="267.7" r="2"/>
<circle class="d" cx="298.0" cy="268.4" r="2"/>
<circle class="d" cx="315.2" cy="265.3" r="2"/>
<circle class="d" cx="289.6" cy="267.9" r="2"/>
<circle class="d" cx="278.4" cy="270.3" r="2"/>
<circle class="d" cx="282.5" cy="269.1" r="2"/>
<circle class="d" cx="296.7" cy="267.9" r="2"/>
<circle class="d" cx="294.1" cy="270.9" r="2"/>
<circle class="d" cx="272.9" cy="272.9" r="2"/>
<circle class="d" cx="288.9" cy="267.2" r="2"/>
<circle class="d" cx="286.0" cy="268.5" r="2"/>
<circle class="d" cx="274.4" cy="265.6" r="2"/>
<circle class="d" cx="292.0" cy="264.9" r="2"/>
<circle class="d" cx="285.8" cy="272.9" r="2"/>
<circle class="d" cx="291.2" cy="267.2" r="2"/>
<circle class="d" cx="286.2" cy="271.7" r="2"/>
<circle class="d" cx="296.3" cy="266.8" r="2"/>
<circle class="d" cx="315.3" cy="266.6" r="2"/>
<circle class="d" cx="297.3" cy="272.0" r="2"/>
<circle class="d" cx="307.8" cy="268.4" r="2"/>
<circle class="d" cx="274.7" cy="268.9" r="2"/>
<circle class="d" cx="308.4" cy="269.3" r="2"/>
<circle class="d" cx="306.3" cy="268.3" r="2"/>
<circle class="d" cx="296.2" cy="270.9" r="2"/>
<circle class="d" cx="300.5" cy="272.5" r="2"/>
<circle class="d" cx="300.6" cy="261.3" r="2"/>
<circle class="d" cx="272.0" cy="269.2" r="2"/>
<circle class="d" cx="290.1" cy="261.5" r="2"/>
<circle class="d" cx="272.9" cy="264.9" r="2"/>
<circle class="d" cx="271.6" cy="267.3" r="2"/>
<circle class="d" cx="274.7" cy="269.8" r="2"/>
<circle class="d" cx="273.5" cy="272.9" r="2"/>
<circle class="d" cx="276.3" cy="275.4" r="2"/>
<circle class="d" cx="277.8" cy="270.4" r="2"/>
<circle class="d" cx="280.6" cy="267.3" r="2"/>
<circle class="d" cx="281.5" cy="271.7" r="2"/>
<circle class="d" cx="283.7" cy="265.5" r="2"/>
<circle class="d" cx="284.3" cy="270.4" r="2"/>
<circle class="d" cx="285.5" cy="263.0" r="2"/>
<circle class="d" cx="286.1" cy="267.3" r="2"/>
<circle class="d" cx="285.5" cy="273.5" r="2"/>
<circle class="d" cx="289.8" cy="267.3" r="2"/>
<circle class="d" cx="290.4" cy="261.2" r="2"/>
<circle class="d" cx="291.7" cy="264.3" r="2"/>
<circle class="d" cx="288.0" cy="271.0" r="2"/>
<circle class="d" cx="292.9" cy="269.2" r="2"/>
<circle class="d" cx="300.3" cy="260.2" r="2"/>
<circle class="d" cx="296.6" cy="267.3" r="2"/>
<circle class="d" cx="301.5" cy="265.5" r="2"/>
<circle class="d" cx="304.0" cy="265.2" r="2"/>
<circle class="d" cx="302.7" cy="269.5" r="2"/>
<circle class="d" cx="300.3" cy="272.3" r="2"/>
<circle class="d" cx="297.2" cy="272.3" r="2"/>
<circle class="d" cx="307.7" cy="267.0" r="2"/>
<circle class="d" cx="309.5" cy="263.6" r="2"/>
<circle class="d" cx="309.5" cy="270.4" r="2"/>
<circle class="d" cx="312.9" cy="262.4" r="2"/>
<circle class="d" cx="313.8" cy="268.3" r="2"/>
<circle class="d" cx="316.0" cy="267.0" r="2"/>
<circle class="d" cx="300.0" cy="278.1" r="2"/>
<circle class="d" cx="303.0" cy="278.1" r="2"/>
<circle class="d" cx="306.4" cy="271.0" r="2"/>
<circle class="d" cx="292.9" cy="268.0" r="2"/>
<circle class="a" cx="421.7" cy="266.8" r="2"/>
<circle class="a" cx="423.5" cy="266.4" r="2"/>
<circle class="a" cx="419.2" cy="269.8" r="2"/>
<circle class="a" cx="420.5" cy="271.4" r="2"/>
<circle class="a" cx="420.6" cy="270.7" r="2"/>
<circle class="b" cx="431.9" cy="263.0" r="2"/>
<circle class="b" cx="418.4" cy="272.9" r="2"/>
<circle class="b" cx="428.4" cy="265.4" r="2"/>
<circle class="a" cx="415.1" cy="271.3" r="2"/>
<circle class="b" cx="426.0" cy="269.3" r="2"/>
<circle class="b" cx="419.2" cy="273.7" r="2"/>
<circle class="a" cx="415.5" cy="273.2" r="2"/>
<circle class="b" cx="428.7" cy="265.4" r="2"/>
<circle class="a" cx="421.7" cy="267.6" r="2"/>
<circle class="a" cx="420.1" cy="266.8" r="2"/>
<circle class="a" cx="422.2" cy="267.2" r="2"/>
<circle class="b" cx="425.2" cy="269.7" r="2"/>
<circle class="b" cx="429.4" cy="266.1" r="2"/>
<circle class="a" cx="425.0" cy="266.7" r="2"/>
<circle class="a" cx="416.9" cy="271.4" r="2"/>
<circle class="a" cx="422.6" cy="264.2" r="2"/>
<circle class="a" cx="424.6" cy="265.3" r="2"/>
<circle class="a" cx="424.1" cy="265.3" r="2"/>
<circle class="b" cx="420.8" cy="272.5" r="2"/>
<circle class="a" cx="415.5" cy="269.7" r="2"/>
<circle class="b" cx="419.2" cy="273.1" r="2"/>
<circle class="a" cx="415.1" cy="272.7" r="2"/>
<circle class="a" cx="423.5" cy="261.4" r="2"/>
<circle class="b" cx="420.2" cy="272.2" r="2"/>
<circle class="b" cx="430.4" cy="264.8" r="2"/>
<circle class="b" cx="432.0" cy="262.9" r="2"/>
<circle class="b" cx="430.1" cy="265.8" r="2"/>
<circle class="a" cx="421.3" cy="266.9" r="2"/>
<circle class="b" cx="424.3" cy="268.6" r="2"/>
<circle class="a" cx="418.2" cy="269.7" r="2"/>
<circle class="a" cx="425.1" cy="262.1" r="2"/>
<circle class="b" cx="426.9" cy="267.6" r="2"/>
<circle class="b" cx="432.1" cy="264.5" r="2"/>
<circle class="b" cx="422.0" cy="271.3" r="2"/>
<circle class="b" cx="427.3" cy="267.6" r="2"/>
<circle class="a" cx="428.2" cy="265.7" r="2"/>
<circle class="b" cx="424.7" cy="269.3" r="2"/>
<circle class="a" cx="426.4" cy="264.9" r="2"/>
<circle class="b" cx="428.6" cy="265.3" r="2"/>
<circle class="a" cx="425.3" cy="261.7" r="2"/>
<circle class="a" cx="423.2" cy="263.0" r="2"/>
<circle class="b" cx="429.1" cy="265.7" r="2"/>
<circle class="b" cx="433.8" cy="262.4" r="2"/>
<circle class="b" cx="428.8" cy="267.0" r="2"/>
<circle class="a" cx="418.9" cy="270.0" r="2"/>
<circle class="a" cx="429.3" cy="264.6" r="2"/>
<circle class="a" cx="414.3" cy="268.3" r="2"/>
<circle class="a" cx="421.0" cy="264.3" r="2"/>
<circle class="a" cx="413.5" cy="270.9" r="2"/>
<circle class="a" cx="419.0" cy="269.6" r="2"/>
<circle class="a" cx="415.6" cy="273.6" r="2"/>
<circle class="a" cx="427.1" cy="267.6" r="2"/>
<circle class="a" cx="419.3" cy="269.2" r="2"/>
<circle class="a" cx="429.9" cy="266.0" r="2"/>
<circle class="a" cx="424.3" cy="268.3" r="2"/>
<circle class="a" cx="422.9" cy="267.8" r="2"/>
<circle class="a" cx="416.2" cy="271.0" r="2"/>
<circle class="a" cx="424.7" cy="266.9" r="2"/>
<circle class="a" cx="424.2" cy="265.0" r="2"/>
<circle class="a" cx="429.0" cy="266.1" r="2"/>
<circle class="a" cx="424.2" cy="268.2" r="2"/>
<circle class="b" cx="421.9" cy="271.5" r="2"/>
<circle class="a" cx="421.0" cy="268.6" r="2"/>
<circle class="a" cx="424.8" cy="263.7" r="2"/>
<circle class="b" cx="432.4" cy="263.9" r="2"/>
<circle class="a" cx="428.0" cy="262.6" r="2"/>
<circle class="b" cx="420.0" cy="273.5" r="2"/>
<circle class="a" cx="417.1" cy="275.4" r="2"/>
<circle class="a" cx="423.5" cy="266.4" r="2"/>
<circle class="a" cx="419.8" cy="267.5" r="2"/>
<circle class="a" cx="409.3" cy="278.1" r="2"/>
<circle class="a" cx="423.8" cy="264.0" r="2"/>
<circle class="a" cx="427.4" cy="264.8" r="2"/>
<circle class="b" cx="423.5" cy="270.1" r="2"/>
<circle class="b" cx="424.7" cy="268.9" r="2"/>
<circle class="b" cx="420.1" cy="273.7" r="2"/>
<circle class="a" cx="427.8" cy="267.1" r="2"/>
<circle class="a" cx="424.5" cy="264.9" r="2"/>
<circle class="b" cx="430.6" cy="264.7" r="2"/>
<circle class="a" cx="423.1" cy="270.9" r="2"/>
<circle class="a" cx="421.5" cy="272.3" r="2"/>
<circle class="a" cx="428.0" cy="261.7" r="2"/>
<circle class="a" cx="402.0" cy="273.2" r="2"/>
<circle class="a" cx="416.6" cy="276.4" r="2"/>
<circle class="b" cx="433.2" cy="262.4" r="2"/>
<circle class="a" cx="426.3" cy="262.7" r="2"/>
<circle class="a" cx="427.9" cy="263.0" r="2"/>
<circle class="a" cx="430.2" cy="260.5" r="2"/>
<circle class="b" cx="424.1" cy="269.9" r="2"/>
<circle class="a" cx="411.4" cy="270.7" r="2"/>
<circle class="a" cx="425.2" cy="264.5" r="2"/>
<circle class="a" cx="416.4" cy="274.1" r="2"/>
<circle class="a" cx="427.4" cy="263.2" r="2"/>
<circle class="a" cx="425.5" cy="263.1" r="2"/>
<circle class="b" cx="426.9" cy="267.0" r="2"/>
<circle class="a" cx="417.5" cy="273.4" r="2"/>
<circle class="a" cx="427.0" cy="263.8" r="2"/>
<circle class="a" cx="428.0" cy="264.2" r="2"/>
<circle class="a" cx="424.5" cy="265.6" r="2"/>
<circle class="b" cx="424.5" cy="270.0" r="2"/>
<circle class="b" cx="428.7" cy="266.8" r="2"/>
<circle class="a" cx="423.7" cy="265.4" r="2"/>
<circle class="b" cx="430.2" cy="265.2" r="2"/>
<circle class="a" cx="417.5" cy="268.3" r="2"/>
<circle class="b" cx="426.3" cy="268.1" r="2"/>
<circle class="a" cx="420.0" cy="265.4" r="2"/>
<circle class="b" cx="424.7" cy="269.2" r="2"/>
<circle class="a" cx="426.3" cy="259.8" r="2"/>
<circle class="b" cx="422.3" cy="271.0" r="2"/>
<circle class="a" cx="421.5" cy="266.4" r="2"/>
<circle class="a" cx="423.7" cy="263.0" r="2"/>
<circle class="b" cx="430.3" cy="264.3" r="2"/>
<circle class="a" cx="414.8" cy="277.8" r="2"/>
<circle class="b" cx="419.2" cy="274.5" r="2"/>
<circle class="a" cx="414.2" cy="268.7" r="2"/>
<circle class="a" cx="424.6" cy="264.1" r="2"/>
<circle class="a" cx="424.3" cy="267.1" r="2"/>
<circle class="a" cx="422.7" cy="263.3" r="2"/>
<circle class="b" cx="425.9" cy="268.6" r="2"/>
<circle class="a" cx="417.7" cy="270.3" r="2"/>
<circle class="a" cx="425.7" cy="265.5" r="2"/>
<circle class="b" cx="419.7" cy="273.3" r="2"/>
<circle class="a" cx="424.1" cy="261.1" r="2"/>
<circle class="b" cx="432.1" cy="262.8" r="2"/>
<circle class="b" cx="423.9" cy="269.3" r="2"/>
<circle class="b" cx="422.4" cy="270.6" r="2"/>
<circle class="a" cx="425.7" cy="268.3" r="2"/>
<circle class="a" cx="423.9" cy="268.1" r="2"/>
<circle class="a" cx="426.2" cy="262.7" r="2"/>
<circle class="a" cx="419.4" cy="271.8" r="2"/>
<circle class="a" cx="422.0" cy="266.7" r="2"/>
<circle class="b" cx="419.7" cy="273.4" r="2"/>
<circle class="b" cx="421.7" cy="271.2" r="2"/>
<circle class="a" cx="412.8" cy="271.7" r="2"/>
<circle class="a" cx="425.2" cy="265.7" r="2"/>
<circle class="b" cx="419.4" cy="273.4" r="2"/>
<circle class="a" cx="412.7" cy="272.4" r="2"/>
<circle class="a" cx="421.0" cy="270.2" r="2"/>
<circle class="a" cx="415.4" cy="272.4" r="2"/>
<circle class="c" cx="437.1" cy="263.6" r="2"/>
<circle class="c" cx="422.4" cy="275.7" r="2"/>
<circle class="c" cx="432.2" cy="267.8" r="2"/>
<circle class="c" cx="425.9" cy="272.7" r="2"/>
<circle class="c" cx="439.0" cy="262.1" r="2"/>
<circle class="c" cx="430.9" cy="267.9" r="2"/>
<circle class="c" cx="423.4" cy="273.5" r="2"/>
<circle class="c" cx="428.3" cy="271.5" r="2"/>
<circle class="c" cx="423.3" cy="273.7" r="2"/>
<circle class="c" cx="437.4" cy="261.1" r="2"/>
<circle class="c" cx="423.8" cy="274.3" r="2"/>
<circle class="c" cx="433.7" cy="267.0" r="2"/>
<circle class="c" cx="436.6" cy="262.3" r="2"/>
<circle class="c" cx="425.5" cy="273.4" r="2"/>
<circle class="c" cx="420.4" cy="276.6" r="2"/>
<circle class="c" cx="422.1" cy="275.0" r="2"/>
<circle class="c" cx="426.3" cy="272.7" r="2"/>
<circle class="c" cx="429.5" cy="268.9" r="2"/>
<circle class="c" cx="431.3" cy="267.9" r="2"/>
<circle class="c" cx="429.7" cy="268.4" r="2"/>
<circle class="c" cx="438.8" cy="262.1" r="2"/>
<circle class="c" cx="438.1" cy="261.8" r="2"/>
<circle class="c" cx="424.3" cy="273.9" r="2"/>
<circle class="c" cx="425.4" cy="272.2" r="2"/>
<circle class="c" cx="427.2" cy="271.6" r="2"/>
<circle class="c" cx="421.1" cy="275.4" r="2"/>
<circle class="c" cx="424.7" cy="273.4" r="2"/>
<circle class="c" cx="427.8" cy="270.8" r="2"/>
<circle class="c" cx="421.5" cy="275.8" r="2"/>
<circle class="c" cx="430.7" cy="268.5" r="2"/>
<circle class="c" cx="430.4" cy="268.5" r="2"/>
<circle class="c" cx="430.0" cy="269.3" r="2"/>
<circle class="c" cx="430.4" cy="270.2" r="2"/>
<circle class="c" cx="422.8" cy="274.5" r="2"/>
<circle class="c" cx="436.1" cy="263.5" r="2"/>
<circle class="c" cx="425.8" cy="272.2" r="2"/>
<circle class="c" cx="436.5" cy="264.7" r="2"/>
<circle class="c" cx="430.1" cy="269.5" r="2"/>
<circle class="c" cx="424.9" cy="272.0" r="2"/>
<circle class="c" cx="436.3" cy="263.6" r="2"/>
<circle class="c" cx="437.7" cy="261.6" r="2"/>
<circle class="c" cx="420.6" cy="275.8" r="2"/>
<circle class="c" cx="433.2" cy="266.4" r="2"/>
<circle class="c" cx="422.6" cy="273.9" r="2"/>
<circle class="c" cx="426.9" cy="270.1" r="2"/>
<circle class="c" cx="427.4" cy="272.4" r="2"/>
<circle class="c" cx="421.7" cy="276.8" r="2"/>
<circle class="c" cx="432.7" cy="265.7" r="2"/>
<circle class="c" cx="434.6" cy="266.0" r="2"/>
<circle class="c" cx="434.7" cy="265.1" r="2"/>
<circle class="c" cx="429.5" cy="269.8" r="2"/>
<circle class="c" cx="439.2" cy="260.6" r="2"/>
<circle class="c" cx="436.7" cy="263.0" r="2"/>
<circle class="c" cx="424.8" cy="274.1" r="2"/>
<circle class="c" cx="422.1" cy="276.2" r="2"/>
<circle class="c" cx="427.6" cy="271.1" r="2"/>
<circle class="c" cx="430.3" cy="269.5" r="2"/>
<circle class="c" cx="437.3" cy="263.1" r="2"/>
<circle class="c" cx="434.8" cy="264.6" r="2"/>
<circle class="c" cx="437.9" cy="261.7" r="2"/>
<circle class="c" cx="423.9" cy="273.4" r="2"/>
<circle class="c" cx="435.9" cy="264.1" r="2"/>
<circle class="c" cx="426.5" cy="273.4" r="2"/>
<circle class="c" cx="421.0" cy="276.3" r="2"/>
<circle class="c" cx="423.4" cy="273.4" r="2"/>
<circle class="c" cx="432.0" cy="268.1" r="2"/>
<circle class="c" cx="435.6" cy="264.4" r="2"/>
<circle class="c" cx="424.4" cy="275.5" r="2"/>
<circle class="c" cx="435.9" cy="263.1" r="2"/>
<circle class="c" cx="430.9" cy="267.6" r="2"/>
<circle class="c" cx="428.0" cy="270.6" r="2"/>
<circle class="c" cx="426.4" cy="273.2" r="2"/>
<circle class="c" cx="422.3" cy="273.7" r="2"/>
<circle class="c" cx="426.8" cy="271.7" r="2"/>
<circle class="c" cx="428.5" cy="269.7" r="2"/>
<circle class="c" cx="422.4" cy="276.1" r="2"/>
<circle class="c" cx="424.7" cy="272.0" r="2"/>
<circle class="c" cx="431.7" cy="267.6" r="2"/>
<circle class="c" cx="435.3" cy="265.0" r="2"/>
<circle class="c" cx="439.3" cy="261.0" r="2"/>
</g>
<rect x="262.35" y="248.5" width="191.15" height="178.00" fill="none" stroke="#999" stroke-width="1"/>
<rect x="269.80" y="426.80" width="2" height="2" fill="#000"/>
<rect x="259.75" y="417.64" width="2" height="2" fill="#000"/>
<text transform="translate(270.80,436.95) scale(1,1.04)" font-size="8.4" fill="#262626" text-anchor="middle">0.5</text>
<text transform="translate(257.80,421.84) scale(1,1.04)" font-size="8.4" fill="#262626" text-anchor="end">0.5</text>
<rect x="313.33" y="426.80" width="2" height="2" fill="#000"/>
<rect x="259.75" y="377.10" width="2" height="2" fill="#000"/>
<text transform="translate(314.33,436.95) scale(1,1.04)" font-size="8.4" fill="#262626" text-anchor="middle">0.6</text>
<text transform="translate(257.80,381.30) scale(1,1.04)" font-size="8.4" fill="#262626" text-anchor="end">0.6</text>
<rect x="356.86" y="426.80" width="2" height="2" fill="#000"/>
<rect x="259.75" y="336.56" width="2" height="2" fill="#000"/>
<text transform="translate(357.86,436.95) scale(1,1.04)" font-size="8.4" fill="#262626" text-anchor="middle">0.7</text>
<text transform="translate(257.80,340.76) scale(1,1.04)" font-size="8.4" fill="#262626" text-anchor="end">0.7</text>
<rect x="400.39" y="426.80" width="2" height="2" fill="#000"/>
<rect x="259.75" y="296.02" width="2" height="2" fill="#000"/>
<text transform="translate(401.39,436.95) scale(1,1.04)" font-size="8.4" fill="#262626" text-anchor="middle">0.8</text>
<text transform="translate(257.80,300.22) scale(1,1.04)" font-size="8.4" fill="#262626" text-anchor="end">0.8</text>
<rect x="443.92" y="426.80" width="2" height="2" fill="#000"/>
<rect x="259.75" y="255.49" width="2" height="2" fill="#000"/>
<text transform="translate(444.92,436.95) scale(1,1.04)" font-size="8.4" fill="#262626" text-anchor="middle">0.9</text>
<text transform="translate(257.80,259.69) scale(1,1.04)" font-size="8.4" fill="#262626" text-anchor="end">0.9</text>
<text transform="translate(357.93,240.50) scale(1,1.045)" font-size="13.2" fill="#000" text-anchor="middle">CAD</text>
<text transform="translate(357.93,449.85) scale(1,1.03)" font-size="11.3" fill="#000" text-anchor="middle">Predictive ability of Basic method</text>
<text transform="translate(240.65,338.10) rotate(-90) scale(1,1.03)" font-size="11.35" fill="#000" text-anchor="middle">Predictive ability of ELPGV</text>
<g clip-path="url(#cp12)">
<line x1="493.0" y1="426.5" x2="684.5" y2="248.5" stroke="#454545" stroke-width="1.7" stroke-dasharray="7.25 7.25" stroke-dashoffset="1.0"/>
<circle class="d" cx="528.4" cy="270.5" r="2"/>
<circle class="d" cx="527.3" cy="269.5" r="2"/>
<circle class="d" cx="543.0" cy="269.3" r="2"/>
<circle class="d" cx="528.8" cy="269.3" r="2"/>
<circle class="d" cx="520.8" cy="268.2" r="2"/>
<circle class="d" cx="515.8" cy="266.5" r="2"/>
<circle class="d" cx="513.2" cy="266.0" r="2"/>
<circle class="d" cx="505.8" cy="265.7" r="2"/>
<circle class="d" cx="522.5" cy="267.8" r="2"/>
<circle class="d" cx="536.0" cy="272.4" r="2"/>
<circle class="d" cx="522.3" cy="265.4" r="2"/>
<circle class="d" cx="526.3" cy="264.3" r="2"/>
<circle class="d" cx="532.7" cy="271.0" r="2"/>
<circle class="d" cx="545.5" cy="266.2" r="2"/>
<circle class="d" cx="521.8" cy="267.7" r="2"/>
<circle class="d" cx="522.5" cy="274.1" r="2"/>
<circle class="d" cx="529.1" cy="269.6" r="2"/>
<circle class="d" cx="521.5" cy="266.9" r="2"/>
<circle class="d" cx="545.2" cy="267.1" r="2"/>
<circle class="d" cx="536.0" cy="270.5" r="2"/>
<circle class="d" cx="516.5" cy="269.8" r="2"/>
<circle class="d" cx="520.2" cy="273.0" r="2"/>
<circle class="d" cx="522.1" cy="265.6" r="2"/>
<circle class="d" cx="523.8" cy="271.8" r="2"/>
<circle class="d" cx="523.5" cy="271.5" r="2"/>
<circle class="d" cx="520.5" cy="267.8" r="2"/>
<circle class="d" cx="509.3" cy="268.1" r="2"/>
<circle class="d" cx="512.5" cy="271.4" r="2"/>
<circle class="d" cx="527.9" cy="268.5" r="2"/>
<circle class="d" cx="525.0" cy="267.8" r="2"/>
<circle class="d" cx="514.8" cy="274.9" r="2"/>
<circle class="d" cx="511.9" cy="273.2" r="2"/>
<circle class="d" cx="523.0" cy="267.9" r="2"/>
<circle class="d" cx="532.8" cy="268.7" r="2"/>
<circle class="d" cx="524.2" cy="271.9" r="2"/>
<circle class="d" cx="537.7" cy="269.9" r="2"/>
<circle class="d" cx="526.2" cy="272.5" r="2"/>
<circle class="d" cx="513.1" cy="266.4" r="2"/>
<circle class="d" cx="524.4" cy="264.6" r="2"/>
<circle class="d" cx="526.9" cy="264.7" r="2"/>
<circle class="d" cx="522.5" cy="266.6" r="2"/>
<circle class="d" cx="519.1" cy="273.6" r="2"/>
<circle class="d" cx="530.1" cy="276.2" r="2"/>
<circle class="d" cx="514.9" cy="275.0" r="2"/>
<circle class="d" cx="529.5" cy="268.4" r="2"/>
<circle class="d" cx="532.9" cy="270.8" r="2"/>
<circle class="d" cx="507.6" cy="265.1" r="2"/>
<circle class="d" cx="523.5" cy="271.8" r="2"/>
<circle class="d" cx="516.6" cy="269.5" r="2"/>
<circle class="d" cx="527.5" cy="265.8" r="2"/>
<circle class="d" cx="526.7" cy="268.7" r="2"/>
<circle class="d" cx="534.3" cy="272.5" r="2"/>
<circle class="d" cx="539.4" cy="268.7" r="2"/>
<circle class="d" cx="505.2" cy="270.6" r="2"/>
<circle class="d" cx="515.6" cy="270.3" r="2"/>
<circle class="d" cx="505.5" cy="264.6" r="2"/>
<circle class="d" cx="537.8" cy="268.8" r="2"/>
<circle class="d" cx="511.8" cy="265.9" r="2"/>
<circle class="d" cx="537.1" cy="266.8" r="2"/>
<circle class="d" cx="536.0" cy="272.2" r="2"/>
<circle class="d" cx="518.4" cy="274.9" r="2"/>
<circle class="d" cx="526.7" cy="271.0" r="2"/>
<circle class="d" cx="530.1" cy="269.3" r="2"/>
<circle class="d" cx="547.7" cy="270.9" r="2"/>
<circle class="d" cx="519.2" cy="274.2" r="2"/>
<circle class="d" cx="527.1" cy="269.9" r="2"/>
<circle class="d" cx="537.1" cy="266.5" r="2"/>
<circle class="d" cx="518.2" cy="266.6" r="2"/>
<circle class="d" cx="526.6" cy="268.2" r="2"/>
<circle class="d" cx="522.9" cy="270.4" r="2"/>
<circle class="d" cx="531.6" cy="266.1" r="2"/>
<circle class="d" cx="533.5" cy="274.9" r="2"/>
<circle class="d" cx="516.6" cy="272.3" r="2"/>
<circle class="d" cx="512.0" cy="266.6" r="2"/>
<circle class="d" cx="529.0" cy="268.6" r="2"/>
<circle class="d" cx="505.8" cy="265.1" r="2"/>
<circle class="d" cx="507.9" cy="265.4" r="2"/>
<circle class="d" cx="504.8" cy="271.2" r="2"/>
<circle class="d" cx="507.4" cy="268.3" r="2"/>
<circle class="d" cx="510.8" cy="269.4" r="2"/>
<circle class="d" cx="513.2" cy="266.5" r="2"/>
<circle class="d" cx="514.0" cy="273.1" r="2"/>
<circle class="d" cx="514.3" cy="275.4" r="2"/>
<circle class="d" cx="517.4" cy="269.9" r="2"/>
<circle class="d" cx="519.5" cy="274.4" r="2"/>
<circle class="d" cx="521.1" cy="267.5" r="2"/>
<circle class="d" cx="522.2" cy="265.7" r="2"/>
<circle class="d" cx="523.2" cy="271.2" r="2"/>
<circle class="d" cx="526.7" cy="264.3" r="2"/>
<circle class="d" cx="526.9" cy="272.8" r="2"/>
<circle class="d" cx="524.8" cy="268.6" r="2"/>
<circle class="d" cx="527.4" cy="264.1" r="2"/>
<circle class="d" cx="531.4" cy="266.5" r="2"/>
<circle class="d" cx="528.2" cy="269.1" r="2"/>
<circle class="d" cx="527.2" cy="272.8" r="2"/>
<circle class="d" cx="530.3" cy="271.7" r="2"/>
<circle class="d" cx="530.1" cy="276.8" r="2"/>
<circle class="d" cx="533.5" cy="269.9" r="2"/>
<circle class="d" cx="536.7" cy="265.9" r="2"/>
<circle class="d" cx="537.2" cy="269.4" r="2"/>
<circle class="d" cx="536.2" cy="272.8" r="2"/>
<circle class="d" cx="542.0" cy="268.6" r="2"/>
<circle class="d" cx="543.5" cy="265.9" r="2"/>
<circle class="d" cx="545.1" cy="270.2" r="2"/>
<circle class="d" cx="547.8" cy="267.0" r="2"/>
<circle class="d" cx="548.0" cy="270.4" r="2"/>
<circle class="a" cx="654.5" cy="267.2" r="2"/>
<circle class="a" cx="658.5" cy="267.2" r="2"/>
<circle class="a" cx="657.5" cy="265.3" r="2"/>
<circle class="a" cx="646.0" cy="274.7" r="2"/>
<circle class="a" cx="646.6" cy="272.1" r="2"/>
<circle class="a" cx="655.7" cy="268.1" r="2"/>
<circle class="a" cx="644.9" cy="272.8" r="2"/>
<circle class="a" cx="657.1" cy="266.2" r="2"/>
<circle class="a" cx="657.7" cy="263.7" r="2"/>
<circle class="a" cx="644.9" cy="274.7" r="2"/>
<circle class="a" cx="644.5" cy="274.5" r="2"/>
<circle class="a" cx="654.4" cy="267.4" r="2"/>
<circle class="a" cx="646.2" cy="272.6" r="2"/>
<circle class="a" cx="645.9" cy="271.5" r="2"/>
<circle class="a" cx="657.9" cy="264.2" r="2"/>
<circle class="a" cx="650.1" cy="272.2" r="2"/>
<circle class="a" cx="649.8" cy="270.6" r="2"/>
<circle class="a" cx="648.0" cy="272.4" r="2"/>
<circle class="a" cx="654.8" cy="268.1" r="2"/>
<circle class="a" cx="646.7" cy="273.7" r="2"/>
<circle class="a" cx="649.2" cy="271.1" r="2"/>
<circle class="a" cx="651.7" cy="269.1" r="2"/>
<circle class="a" cx="654.9" cy="269.2" r="2"/>
<circle class="a" cx="656.0" cy="267.2" r="2"/>
<circle class="a" cx="651.3" cy="266.9" r="2"/>
<circle class="a" cx="653.4" cy="269.5" r="2"/>
<circle class="a" cx="647.7" cy="269.2" r="2"/>
<circle class="a" cx="657.9" cy="267.9" r="2"/>
<circle class="a" cx="657.4" cy="265.2" r="2"/>
<circle class="a" cx="646.5" cy="272.6" r="2"/>
<circle class="a" cx="649.7" cy="270.8" r="2"/>
<circle class="a" cx="656.0" cy="266.8" r="2"/>
<circle class="a" cx="655.7" cy="266.9" r="2"/>
<circle class="a" cx="656.0" cy="266.9" r="2"/>
<circle class="a" cx="649.8" cy="269.9" r="2"/>
<circle class="a" cx="654.1" cy="266.3" r="2"/>
<circle class="a" cx="657.5" cy="265.0" r="2"/>
<circle class="a" cx="653.0" cy="268.2" r="2"/>
<circle class="a" cx="648.7" cy="272.9" r="2"/>
<circle class="a" cx="657.9" cy="266.4" r="2"/>
<circle class="a" cx="655.1" cy="264.8" r="2"/>
<circle class="a" cx="658.6" cy="264.7" r="2"/>
<circle class="a" cx="654.8" cy="266.4" r="2"/>
<circle class="a" cx="647.6" cy="271.5" r="2"/>
<circle class="a" cx="656.6" cy="265.9" r="2"/>
<circle class="a" cx="651.1" cy="269.5" r="2"/>
<circle class="a" cx="658.0" cy="265.7" r="2"/>
<circle class="a" cx="655.0" cy="266.6" r="2"/>
<circle class="a" cx="653.4" cy="270.3" r="2"/>
<circle class="a" cx="649.9" cy="269.6" r="2"/>
<circle class="a" cx="659.0" cy="267.3" r="2"/>
<circle class="a" cx="646.2" cy="274.5" r="2"/>
<circle class="a" cx="649.2" cy="273.6" r="2"/>
<circle class="a" cx="651.5" cy="271.8" r="2"/>
<circle class="a" cx="654.8" cy="267.5" r="2"/>
<circle class="a" cx="654.9" cy="270.1" r="2"/>
<circle class="a" cx="644.4" cy="271.8" r="2"/>
<circle class="a" cx="647.3" cy="272.5" r="2"/>
<circle class="a" cx="653.7" cy="268.1" r="2"/>
<circle class="a" cx="658.5" cy="266.8" r="2"/>
<circle class="a" cx="643.3" cy="276.0" r="2"/>
<circle class="a" cx="659.7" cy="263.8" r="2"/>
<circle class="b" cx="665.6" cy="264.5" r="2"/>
<circle class="b" cx="660.0" cy="268.7" r="2"/>
<circle class="b" cx="663.4" cy="265.9" r="2"/>
<circle class="b" cx="664.0" cy="265.0" r="2"/>
<circle class="b" cx="657.7" cy="271.0" r="2"/>
<circle class="b" cx="653.4" cy="274.1" r="2"/>
<circle class="b" cx="662.7" cy="266.8" r="2"/>
<circle class="b" cx="652.7" cy="275.2" r="2"/>
<circle class="b" cx="665.7" cy="263.4" r="2"/>
<circle class="b" cx="653.5" cy="273.9" r="2"/>
<circle class="b" cx="660.8" cy="267.8" r="2"/>
<circle class="b" cx="663.6" cy="265.9" r="2"/>
<circle class="b" cx="652.1" cy="275.1" r="2"/>
<circle class="b" cx="664.1" cy="265.4" r="2"/>
<circle class="b" cx="664.9" cy="265.1" r="2"/>
<circle class="b" cx="658.5" cy="270.0" r="2"/>
<circle class="b" cx="662.1" cy="266.9" r="2"/>
<circle class="b" cx="665.1" cy="264.2" r="2"/>
<circle class="b" cx="654.6" cy="273.7" r="2"/>
<circle class="b" cx="653.7" cy="274.5" r="2"/>
<circle class="b" cx="654.2" cy="273.2" r="2"/>
<circle class="b" cx="654.1" cy="273.6" r="2"/>
<circle class="b" cx="664.9" cy="264.0" r="2"/>
<circle class="b" cx="655.4" cy="272.7" r="2"/>
<circle class="b" cx="665.0" cy="264.7" r="2"/>
<circle class="b" cx="665.8" cy="264.0" r="2"/>
<circle class="b" cx="659.2" cy="268.9" r="2"/>
<circle class="b" cx="664.0" cy="265.2" r="2"/>
<circle class="b" cx="665.0" cy="264.7" r="2"/>
<circle class="b" cx="663.3" cy="265.8" r="2"/>
<circle class="b" cx="654.8" cy="272.5" r="2"/>
<circle class="b" cx="658.6" cy="270.3" r="2"/>
<circle class="b" cx="653.9" cy="273.6" r="2"/>
<circle class="b" cx="657.4" cy="270.5" r="2"/>
<circle class="b" cx="654.3" cy="273.8" r="2"/>
<circle class="b" cx="659.0" cy="269.9" r="2"/>
<circle class="b" cx="655.4" cy="272.2" r="2"/>
<circle class="b" cx="662.9" cy="266.7" r="2"/>
<circle class="b" cx="660.5" cy="268.8" r="2"/>
<circle class="b" cx="657.4" cy="271.6" r="2"/>
<circle class="b" cx="665.7" cy="264.2" r="2"/>
<circle class="b" cx="660.1" cy="268.6" r="2"/>
<circle class="b" cx="665.5" cy="263.8" r="2"/>
<circle class="b" cx="656.4" cy="272.0" r="2"/>
<circle class="b" cx="652.1" cy="275.3" r="2"/>
<circle class="c" cx="656.8" cy="273.3" r="2"/>
<circle class="c" cx="662.1" cy="267.8" r="2"/>
<circle class="c" cx="658.3" cy="272.8" r="2"/>
<circle class="c" cx="660.2" cy="269.8" r="2"/>
<circle class="c" cx="664.8" cy="265.9" r="2"/>
<circle class="c" cx="661.0" cy="268.9" r="2"/>
<circle class="c" cx="657.1" cy="273.2" r="2"/>
<circle class="c" cx="666.6" cy="264.8" r="2"/>
<circle class="c" cx="653.9" cy="276.3" r="2"/>
<circle class="c" cx="655.5" cy="274.1" r="2"/>
<circle class="c" cx="660.4" cy="271.1" r="2"/>
<circle class="c" cx="662.7" cy="269.1" r="2"/>
<circle class="c" cx="661.8" cy="267.7" r="2"/>
<circle class="c" cx="663.0" cy="268.1" r="2"/>
<circle class="c" cx="658.7" cy="271.4" r="2"/>
<circle class="c" cx="666.4" cy="264.6" r="2"/>
<circle class="c" cx="653.1" cy="276.9" r="2"/>
<circle class="c" cx="658.9" cy="272.0" r="2"/>
<circle class="c" cx="664.2" cy="266.3" r="2"/>
<circle class="c" cx="652.8" cy="276.4" r="2"/>
<circle class="c" cx="664.8" cy="266.8" r="2"/>
<circle class="c" cx="654.2" cy="275.6" r="2"/>
<circle class="c" cx="665.1" cy="265.8" r="2"/>
<circle class="c" cx="659.5" cy="269.8" r="2"/>
<circle class="c" cx="663.3" cy="268.9" r="2"/>
<circle class="c" cx="667.0" cy="265.1" r="2"/>
<circle class="c" cx="654.1" cy="275.2" r="2"/>
<circle class="c" cx="654.3" cy="274.4" r="2"/>
<circle class="c" cx="657.3" cy="271.5" r="2"/>
<circle class="c" cx="666.5" cy="264.1" r="2"/>
<circle class="c" cx="654.4" cy="274.1" r="2"/>
<circle class="c" cx="662.7" cy="267.4" r="2"/>
<circle class="c" cx="665.4" cy="265.6" r="2"/>
<circle class="c" cx="656.3" cy="273.6" r="2"/>
<circle class="c" cx="654.8" cy="274.9" r="2"/>
<circle class="c" cx="661.1" cy="269.5" r="2"/>
<circle class="c" cx="659.6" cy="270.2" r="2"/>
<circle class="c" cx="660.5" cy="269.2" r="2"/>
<circle class="c" cx="660.2" cy="269.8" r="2"/>
<circle class="c" cx="653.1" cy="276.8" r="2"/>
<circle class="c" cx="656.1" cy="273.8" r="2"/>
<circle class="c" cx="663.5" cy="267.5" r="2"/>
<circle class="c" cx="656.7" cy="274.5" r="2"/>
<circle class="c" cx="653.5" cy="274.9" r="2"/>
<circle class="c" cx="657.4" cy="272.5" r="2"/>
<circle class="c" cx="663.7" cy="267.4" r="2"/>
<circle class="c" cx="665.2" cy="267.2" r="2"/>
<circle class="c" cx="661.2" cy="269.2" r="2"/>
<circle class="c" cx="655.3" cy="274.5" r="2"/>
<circle class="c" cx="657.4" cy="272.6" r="2"/>
<circle class="c" cx="653.5" cy="275.1" r="2"/>
<circle class="c" cx="656.7" cy="272.4" r="2"/>
<circle class="c" cx="660.2" cy="270.7" r="2"/>
<circle class="c" cx="654.6" cy="274.5" r="2"/>
<circle class="c" cx="656.5" cy="272.4" r="2"/>
<circle class="c" cx="663.5" cy="268.9" r="2"/>
<circle class="c" cx="658.8" cy="271.4" r="2"/>
<circle class="c" cx="654.4" cy="275.2" r="2"/>
<circle class="c" cx="664.7" cy="266.2" r="2"/>
<circle class="c" cx="661.4" cy="268.8" r="2"/>
<circle class="c" cx="653.0" cy="275.4" r="2"/>
<circle class="c" cx="654.0" cy="275.3" r="2"/>
<circle class="c" cx="663.2" cy="267.5" r="2"/>
<circle class="c" cx="654.5" cy="273.9" r="2"/>
<circle class="c" cx="661.7" cy="267.8" r="2"/>
<circle class="c" cx="654.1" cy="275.7" r="2"/>
<circle class="c" cx="665.9" cy="266.0" r="2"/>
<circle class="c" cx="658.3" cy="271.7" r="2"/>
<circle class="c" cx="655.9" cy="274.7" r="2"/>
<circle class="c" cx="667.2" cy="264.9" r="2"/>
<circle class="c" cx="657.3" cy="272.4" r="2"/>
<circle class="c" cx="656.3" cy="274.5" r="2"/>
<circle class="c" cx="658.2" cy="271.5" r="2"/>
<circle class="c" cx="654.4" cy="274.2" r="2"/>
<circle class="c" cx="665.5" cy="265.1" r="2"/>
</g>
<rect x="493.0" y="248.5" width="191.50" height="178.00" fill="none" stroke="#999" stroke-width="1"/>
<rect x="500.98" y="426.80" width="2" height="2" fill="#000"/>
<rect x="490.40" y="417.16" width="2" height="2" fill="#000"/>
<text transform="translate(501.98,436.95) scale(1,1.04)" font-size="8.4" fill="#262626" text-anchor="middle">0.5</text>
<text transform="translate(488.45,421.36) scale(1,1.04)" font-size="8.4" fill="#262626" text-anchor="end">0.5</text>
<rect x="539.67" y="426.80" width="2" height="2" fill="#000"/>
<rect x="490.40" y="381.19" width="2" height="2" fill="#000"/>
<text transform="translate(540.67,436.95) scale(1,1.04)" font-size="8.4" fill="#262626" text-anchor="middle">0.6</text>
<text transform="translate(488.45,385.39) scale(1,1.04)" font-size="8.4" fill="#262626" text-anchor="end">0.6</text>
<rect x="578.37" y="426.80" width="2" height="2" fill="#000"/>
<rect x="490.40" y="345.22" width="2" height="2" fill="#000"/>
<text transform="translate(579.37,436.95) scale(1,1.04)" font-size="8.4" fill="#262626" text-anchor="middle">0.7</text>
<text transform="translate(488.45,349.42) scale(1,1.04)" font-size="8.4" fill="#262626" text-anchor="end">0.7</text>
<rect x="617.06" y="426.80" width="2" height="2" fill="#000"/>
<rect x="490.40" y="309.26" width="2" height="2" fill="#000"/>
<text transform="translate(618.06,436.95) scale(1,1.04)" font-size="8.4" fill="#262626" text-anchor="middle">0.8</text>
<text transform="translate(488.45,313.46) scale(1,1.04)" font-size="8.4" fill="#262626" text-anchor="end">0.8</text>
<rect x="655.76" y="426.80" width="2" height="2" fill="#000"/>
<rect x="490.40" y="273.29" width="2" height="2" fill="#000"/>
<text transform="translate(656.76,436.95) scale(1,1.04)" font-size="8.4" fill="#262626" text-anchor="middle">0.9</text>
<text transform="translate(488.45,277.49) scale(1,1.04)" font-size="8.4" fill="#262626" text-anchor="end">0.9</text>
<text transform="translate(588.75,240.50) scale(1,1.045)" font-size="13.2" fill="#000" text-anchor="middle">HT</text>
<text transform="translate(588.75,449.85) scale(1,1.03)" font-size="11.3" fill="#000" text-anchor="middle">Predictive ability of Basic method</text>
<text transform="translate(471.30,338.10) rotate(-90) scale(1,1.03)" font-size="11.35" fill="#000" text-anchor="middle">Predictive ability of ELPGV</text>
<text transform="translate(620.5,123.80) scale(1,1.04)" font-size="9.7" fill="#000">Basic method</text>
<circle class="a" cx="628.4" cy="137.35" r="2"/>
<text transform="translate(640.5,140.10) scale(1,1.04)" font-size="7.8" fill="#1a1a1a">BayesA</text>
<circle class="b" cx="628.4" cy="152.42" r="2"/>
<text transform="translate(640.5,155.17) scale(1,1.04)" font-size="7.8" fill="#1a1a1a">BayesB</text>
<circle class="c" cx="628.4" cy="167.49" r="2"/>
<text transform="translate(640.5,170.24) scale(1,1.04)" font-size="7.8" fill="#1a1a1a">BayesCπ</text>
<circle class="d" cx="628.4" cy="182.56" r="2"/>
<text transform="translate(640.5,185.31) scale(1,1.04)" font-size="7.8" fill="#1a1a1a">GBLUP</text>
<text transform="translate(620.5,354.50) scale(1,1.04)" font-size="9.7" fill="#000">Basic method</text>
<circle class="a" cx="628.4" cy="368.05" r="2"/>
<text transform="translate(640.5,370.80) scale(1,1.04)" font-size="7.8" fill="#1a1a1a">BayesA</text>
<circle class="b" cx="628.4" cy="383.12" r="2"/>
<text transform="translate(640.5,385.87) scale(1,1.04)" font-size="7.8" fill="#1a1a1a">BayesB</text>
<circle class="c" cx="628.4" cy="398.19" r="2"/>
<text transform="translate(640.5,400.94) scale(1,1.04)" font-size="7.8" fill="#1a1a1a">BayesCπ</text>
<circle class="d" cx="628.4" cy="413.26" r="2"/>
<text transform="translate(640.5,416.01) scale(1,1.04)" font-size="7.8" fill="#1a1a1a">GBLUP</text>
</svg></body></html>
